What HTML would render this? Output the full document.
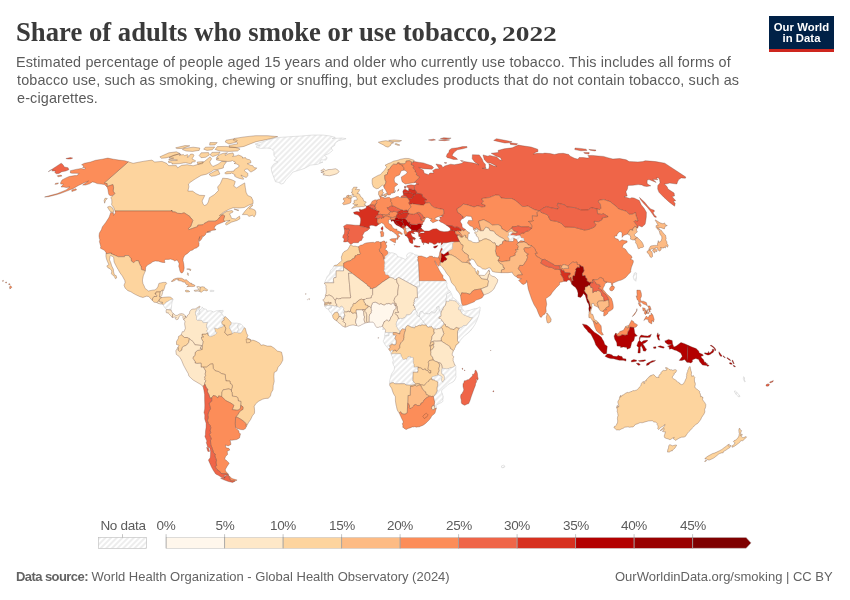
<!DOCTYPE html>
<html><head><meta charset="utf-8"><title>Share of adults who smoke or use tobacco, 2022</title>
<style>
html,body{margin:0;padding:0;background:#fff;}
body{width:850px;height:600px;position:relative;overflow:hidden;font-family:"Liberation Sans",sans-serif;}
#title{will-change:transform;position:absolute;left:16px;top:14.2px;font-family:"Liberation Serif",serif;font-weight:bold;font-size:28px;color:#3a3a3a;white-space:nowrap;transform-origin:0 0;line-height:36px;}
#t1{display:inline-block;transform-origin:0 0;transform:scaleX(0.953);}
#t2{position:absolute;left:485.7px;top:1.9px;font-size:20.5px;display:inline-block;transform-origin:0 0;transform:scaleX(1.336);}
.sub{will-change:transform;position:absolute;left:16.5px;font-size:14.4px;letter-spacing:0.14px;color:#5b5b5b;white-space:nowrap;transform-origin:0 0;line-height:18px;}
#logo{will-change:transform;position:absolute;left:769px;top:16px;width:65px;height:33px;background:#002147;border-bottom:3px solid #ce261e;color:#fff;font-weight:bold;font-size:11.3px;line-height:11px;text-align:center;letter-spacing:0.05px;}
#logo div{position:absolute;left:0;width:65px;}
.lg{will-change:transform;position:absolute;top:518.4px;width:40px;text-align:center;font-size:13.5px;color:#5b5b5b;line-height:16px;letter-spacing:-0.3px;}
.ft{will-change:transform;position:absolute;top:569px;font-size:13px;color:#636363;white-space:nowrap;line-height:16px;transform-origin:0 0;}
svg{position:absolute;left:0;top:0;}
</style></head><body>
<svg width="850" height="600" viewBox="0 0 850 600">
<defs><pattern id="hatch" patternUnits="userSpaceOnUse" width="4" height="4" patternTransform="rotate(-45 2 2)"><rect width="4" height="4" fill="#fff"/><path d="M-1,2 l6,0" stroke="#ccc" stroke-width="0.7"/></pattern></defs>
<g stroke-linejoin="round">
<path d="M255.1,144.1L265.4,140.9L271.7,138.7L279.8,137.4L291.5,136.6L301.5,136.0L311.6,135.1L322.5,135.0L330.2,136.0L335.3,137.4L332.1,138.5L342.1,138.0L346.1,138.7L338.6,140.7L335.2,143.0L334.6,145.4L331.0,147.8L332.7,150.4L328.9,153.5L324.5,155.4L327.2,157.7L325.9,160.1L321.0,159.8L319.6,162.5L323.0,162.0L317.4,164.4L310.5,165.1L304.4,168.5L298.7,170.3L292.9,172.1L290.0,175.6L286.1,179.6L283.4,183.4L281.0,184.1L278.8,182.4L275.4,181.7L274.0,177.9L272.7,174.4L271.5,171.0L271.3,167.6L273.6,164.2L278.0,162.0L273.8,160.3L276.6,158.1L273.9,155.6L273.9,151.4L271.1,148.6L266.9,148.0L260.5,148.4L256.6,147.6L256.6,145.8L260.0,145.2L255.1,144.1Z" fill="url(#hatch)" stroke="#c8c8c8" stroke-width="0.5"/>
<path d="M128.3,161.8L133.1,163.3L139.6,162.0L145.9,160.9L151.9,160.1L154.7,162.0L162.0,161.4L166.6,163.3L168.6,165.6L176.3,165.6L177.6,167.8L181.6,165.3L187.3,164.7L193.1,165.8L198.6,164.2L203.8,162.0L210.1,156.8L211.6,158.8L209.8,161.8L210.6,164.0L212.9,166.5L218.0,164.2L221.8,161.4L226.5,161.8L223.6,165.8L223.3,168.0L217.7,169.4L213.9,169.8L210.6,172.1L206.5,174.2L201.2,175.4L195.0,179.1L190.8,181.9L188.4,184.1L188.9,186.7L187.9,191.1L192.6,191.1L195.9,193.5L199.7,195.3L204.8,195.5L202.1,201.0L203.0,204.0L204.3,205.5L206.6,204.7L208.3,202.0L209.4,197.7L214.5,194.5L218.4,190.6L217.6,187.0L220.3,183.8L222.7,178.2L227.8,178.6L232.4,180.0L235.3,181.5L233.8,186.2L236.7,187.9L241.2,185.0L244.7,182.9L245.3,187.5L246.1,192.3L247.7,195.5L251.3,197.0L253.0,200.5L253.1,203.5L249.1,205.0L244.3,207.5L239.1,208.0L233.2,207.7L228.5,209.5L223.5,212.3L219.3,215.6L221.8,214.3L226.9,211.3L232.2,210.5L233.1,212.0L229.5,213.8L230.7,216.1L231.6,218.4L235.6,218.9L239.5,216.1L240.0,218.7L237.2,220.4L231.4,222.2L226.4,225.1L225.3,224.0L226.7,222.2L230.1,220.4L226.8,220.7L224.5,221.5L223.9,220.4L223.5,219.4L224.7,215.9L223.9,215.2L222.1,215.0L219.8,216.9L218.5,218.9L217.0,220.2L215.2,221.2L208.6,221.2L204.2,223.5L202.9,224.8L197.8,225.2L197.6,226.6L188.8,229.7L188.4,228.4L190.7,226.4L192.8,220.4L191.4,218.4L190.0,217.4L189.8,216.4L184.1,212.8L181.5,213.6L177.5,213.3L175.1,212.0L172.0,211.8L171.8,210.0L171.3,211.0L115.0,211.0L113.8,207.7L111.6,204.7L111.9,202.2L111.7,199.5L110.8,197.5L113.3,195.3L114.8,193.5L113.1,191.1L113.6,187.7L112.9,184.6L107.1,186.5L107.1,183.6L104.1,183.1L128.3,161.8ZM113.4,212.5L110.6,211.8L108.9,209.5L107.5,207.0L109.9,206.2L112.4,207.7L113.6,210.3L113.4,212.5ZM104.6,203.2L104.1,200.5L105.0,198.2L107.3,198.5L105.5,200.5L104.6,203.2ZM242.4,214.6L245.1,211.0L248.8,207.0L252.2,204.5L253.0,205.2L249.4,208.7L251.8,208.7L254.9,210.0L255.9,212.0L255.6,214.6L254.2,216.9L252.4,215.3L249.0,216.4L247.1,214.6L242.4,214.6ZM233.9,209.0L238.2,210.8L238.8,210.0L233.9,209.0ZM246.3,158.9L249.7,159.8L250.6,160.7L251.0,162.7L247.3,163.7L250.4,165.2L252.8,165.7L254.2,167.7L256.8,167.9L255.4,169.5L251.0,172.1L249.4,171.1L247.8,169.0L245.4,169.2L244.5,170.5L245.6,171.9L247.4,172.9L247.8,173.6L247.8,175.8L246.3,177.5L244.4,176.9L240.9,175.0L242.4,177.0L243.5,178.4L243.4,179.3L239.0,178.3L235.9,177.0L234.3,175.8L235.3,175.2L233.4,174.0L231.5,172.9L231.1,173.5L225.8,173.9L224.7,173.1L227.0,171.4L230.3,171.4L234.0,171.1L234.0,170.3L235.3,169.1L238.8,166.9L239.0,165.9L238.8,165.2L236.9,164.1L234.0,163.4L235.4,162.8L234.6,161.4L233.2,161.3L232.4,160.5L231.1,161.2L227.9,161.5L222.2,161.0L219.2,160.4L216.8,160.0L216.0,159.3L218.6,158.3L216.3,158.3L217.6,156.1L220.5,154.2L223.0,153.4L227.5,152.8L225.2,154.2L225.3,155.5L228.2,153.8L233.0,152.9L233.9,155.1L232.6,156.5L236.2,155.9L238.4,155.0L241.2,156.1L242.7,157.1L242.2,158.0L245.6,157.6L246.3,158.9ZM209.0,174.4L214.9,171.0L218.1,170.1L219.9,174.0L215.2,175.8L211.3,176.3L209.0,174.4ZM180.0,153.9L181.1,154.3L179.2,155.2L183.5,154.6L184.5,155.7L187.5,154.6L188.2,155.3L187.3,157.4L189.1,156.5L190.3,154.3L192.0,154.0L193.2,154.3L194.1,155.2L193.0,157.3L192.0,158.8L193.7,159.8L195.7,160.9L194.7,161.8L191.8,162.0L192.1,162.9L190.8,163.7L188.1,163.3L185.7,162.7L183.7,162.9L179.8,163.6L175.2,163.9L172.0,164.1L172.2,163.1L170.5,162.5L168.7,162.7L168.5,161.0L169.8,160.8L172.8,160.4L175.0,160.5L177.5,160.1L174.9,159.6L171.2,159.8L168.9,159.7L168.9,159.0L173.7,158.1L171.1,158.1L168.9,157.6L172.1,156.0L174.2,155.1L180.0,153.9ZM159.9,156.8L168.9,152.8L176.4,151.8L180.0,153.5L170.6,156.6L165.9,157.9L161.3,158.3L159.9,156.8ZM201.2,152.8L208.5,152.6L209.4,154.9L205.6,157.3L201.1,157.7L199.2,155.6L201.2,152.8ZM211.9,152.4L220.0,152.2L218.6,154.5L212.7,156.6L210.2,154.9L211.9,152.4ZM197.2,162.0L203.4,161.6L202.5,163.6L197.8,164.2L197.2,162.0ZM184.0,148.4L193.2,147.2L199.8,148.0L199.2,150.4L192.6,151.4L186.1,151.0L182.4,149.6L184.0,148.4ZM205.4,147.2L214.7,147.0L212.3,149.8L207.0,150.4L203.7,149.2L205.4,147.2ZM175.7,147.8L184.9,145.6L189.8,145.8L182.5,148.4L176.9,148.6L175.7,147.8ZM217.4,146.6L225.9,146.4L235.5,147.4L240.1,149.0L237.5,151.0L228.6,151.4L219.6,151.0L215.1,149.4L217.4,146.6ZM234.0,138.5L244.3,136.9L255.4,135.7L267.7,135.7L277.7,136.6L273.0,138.0L264.9,139.9L256.0,141.7L250.2,143.9L244.0,146.4L236.8,147.6L229.4,147.4L229.2,145.4L237.6,143.9L236.8,142.0L233.3,140.2L234.0,138.5ZM226.1,140.2L233.5,138.9L237.3,140.4L235.4,142.6L228.8,143.9L225.2,142.0L226.1,140.2ZM209.9,142.6L217.2,142.6L215.0,144.9L209.6,145.1L209.9,142.6Z" fill="#fdd49e" stroke="#5a3a30" stroke-opacity="0.75" stroke-width="0.4"/>
<path d="M115.0,211.0L171.3,211.0L171.8,210.0L172.0,211.8L175.1,212.0L177.5,213.3L181.5,213.6L184.1,212.8L189.8,216.4L190.0,217.4L191.4,218.4L192.8,220.4L190.7,226.4L188.4,228.4L188.8,229.7L197.6,226.6L197.8,225.2L202.9,224.8L204.2,223.5L208.6,221.2L215.2,221.2L217.0,220.2L218.5,218.9L219.8,216.9L222.1,215.0L223.9,215.2L224.7,215.9L223.5,219.4L223.9,220.4L224.5,221.5L221.5,222.8L219.1,223.8L216.7,224.8L215.1,226.4L214.2,227.9L214.7,229.2L215.8,228.9L215.5,230.0L212.9,230.2L211.0,230.8L207.1,231.8L210.7,231.8L206.1,232.8L205.3,234.9L203.0,236.7L202.1,235.7L202.4,237.5L201.4,239.3L199.5,241.4L199.2,239.6L199.9,236.5L198.9,239.3L198.5,241.9L199.1,243.0L198.9,246.1L196.5,247.9L194.6,248.4L192.7,250.0L190.3,250.8L187.5,253.4L184.8,255.2L183.3,258.1L183.0,260.4L183.8,264.1L184.2,268.0L183.6,271.1L182.5,272.7L181.1,273.0L179.9,270.9L179.4,268.3L178.7,266.2L179.2,263.8L178.4,262.0L177.1,259.9L174.7,261.0L173.3,259.9L170.6,259.1L168.4,259.4L165.5,259.4L164.4,260.4L165.0,262.5L162.8,262.5L160.7,262.0L158.6,261.2L155.2,261.0L152.8,261.7L150.8,263.3L147.5,265.1L145.7,267.2L145.4,270.8L141.4,269.6L141.1,266.7L139.8,264.6L138.4,260.7L135.9,260.7L133.8,262.8L131.4,261.2L131.0,258.6L128.6,255.5L124.9,255.5L124.5,256.8L118.3,256.8L111.0,253.7L111.4,253.1L106.0,253.7L106.0,252.4L104.4,250.3L102.9,249.5L100.4,248.2L100.8,246.6L99.8,243.0L99.4,241.4L99.9,239.8L99.4,238.5L99.0,235.9L99.4,233.1L101.5,229.5L102.3,226.9L105.7,222.5L108.6,218.1L109.2,216.9L110.7,212.5L113.4,213.0L113.6,215.3L115.4,212.8L115.0,211.0ZM128.3,161.8L124.7,160.7L118.9,160.1L113.6,159.2L107.8,158.1L102.1,159.2L95.5,160.3L90.5,162.0L84.4,163.3L81.6,164.7L84.0,166.0L82.6,167.4L85.3,167.8L84.8,169.2L81.1,168.5L75.9,169.4L70.4,170.7L70.4,173.0L72.4,173.3L76.8,173.3L79.2,173.5L76.9,175.6L74.7,175.6L69.1,176.5L65.9,177.9L62.0,180.0L60.6,182.7L60.7,184.1L63.5,184.1L61.0,187.0L63.8,187.0L66.4,187.5L69.8,187.0L66.2,189.9L57.5,193.5L50.9,195.3L44.6,197.0L48.4,196.7L56.2,194.8L60.4,193.5L66.8,191.1L73.4,188.4L78.4,185.5L84.4,182.7L88.5,181.0L82.7,185.0L85.5,185.0L89.5,183.8L92.5,181.9L94.7,182.4L97.1,183.6L101.2,184.1L104.4,184.6L106.1,186.0L107.3,187.5L107.9,189.4L108.3,192.1L108.8,194.5L110.2,195.7L112.7,195.5L114.8,193.5L113.1,191.1L113.6,187.7L112.9,184.6L107.1,186.5L107.1,183.6L104.1,183.1L128.3,161.8ZM71.8,189.9L76.0,188.7L76.5,189.9L71.9,191.6L71.8,189.9ZM57.2,175.8L61.1,175.1L62.0,176.1L58.1,176.8L57.2,175.8ZM55.5,183.4L58.5,182.9L57.6,184.1L54.9,184.3L55.5,183.4ZM9.5,286.8L10.7,285.8L11.9,287.3L9.9,289.0L9.5,286.8ZM8.6,283.9L9.8,283.7L10.1,284.5L8.9,284.7L8.6,283.9ZM5.4,282.4L6.4,281.9L6.6,282.9L5.7,282.9L5.4,282.4ZM2.4,280.8L3.4,280.4L3.4,281.2L2.5,281.3L2.4,280.8Z" fill="#fc8d59" stroke="#5a3a30" stroke-opacity="0.75" stroke-width="0.4"/>
<path d="M106.0,253.7L111.4,253.1L111.0,253.7L118.3,256.8L124.5,256.8L124.9,255.5L128.6,255.5L131.0,258.6L131.4,261.2L133.8,262.8L135.9,260.7L138.4,260.7L139.8,264.6L141.1,266.7L141.4,269.6L145.4,270.8L143.3,275.8L142.5,279.8L142.5,281.1L143.0,283.7L144.4,286.5L145.0,288.4L146.9,289.7L148.3,291.0L152.3,290.2L154.6,289.9L156.5,288.9L158.0,286.5L158.9,283.4L163.1,282.4L166.0,282.4L166.8,283.2L165.1,285.5L164.6,287.6L163.5,290.7L162.5,290.2L160.4,291.6L160.3,292.0L156.1,292.0L155.9,293.5L155.0,293.6L157.0,295.7L156.7,296.5L154.0,296.5L152.6,298.6L152.4,300.6L148.7,296.5L146.5,296.2L142.9,297.5L139.6,296.5L135.5,294.6L133.2,293.3L130.9,291.8L127.9,290.7L125.1,288.1L124.0,285.2L125.1,282.6L124.8,280.5L123.4,277.9L122.4,276.1L119.9,272.7L118.3,269.8L116.9,267.5L115.8,265.4L114.1,262.0L113.6,257.1L110.6,255.5L110.1,256.3L109.5,259.7L110.8,262.8L111.7,265.9L113.3,269.1L113.6,271.9L114.5,275.1L116.2,275.6L116.7,277.9L115.4,278.7L114.8,277.2L113.4,275.8L111.4,273.8L111.8,270.9L110.1,268.8L107.9,267.8L106.8,265.9L108.9,264.6L107.5,261.7L106.5,259.1L105.9,256.3L106.0,253.7Z" fill="#fdd49e" stroke="#5a3a30" stroke-opacity="0.75" stroke-width="0.4"/>
<path d="M152.4,300.6L154.0,302.2L157.0,302.6L158.9,300.9L159.4,300.1L159.4,299.1L161.8,297.5L160.3,297.0L159.6,297.0L160.3,292.0L156.1,292.0L155.9,293.5L155.0,293.6L157.0,295.7L156.7,296.5L154.0,296.5L152.6,298.6L152.4,300.6Z" fill="#fdd49e" stroke="#5a3a30" stroke-opacity="0.75" stroke-width="0.4"/>
<path d="M159.6,297.0L160.3,297.0L161.8,295.4L162.6,292.8L162.5,290.2L160.4,291.6L160.3,292.0L159.6,297.0Z" fill="#fee8c8" stroke="#5a3a30" stroke-opacity="0.75" stroke-width="0.4"/>
<path d="M157.0,302.6L158.9,300.9L160.7,302.0L162.5,302.2L162.1,304.0L160.5,304.0L157.6,303.3L157.0,302.6Z" fill="#fee8c8" stroke="#5a3a30" stroke-opacity="0.75" stroke-width="0.4"/>
<path d="M158.9,300.9L159.4,300.1L159.4,299.1L161.8,297.5L163.5,297.3L166.9,297.0L169.2,296.9L170.8,297.3L173.1,299.3L170.0,300.1L168.3,301.2L166.4,302.2L164.7,303.8L163.9,304.6L163.0,304.7L162.1,304.0L162.5,302.2L160.7,302.0L158.9,300.9Z" fill="#fdd49e" stroke="#5a3a30" stroke-opacity="0.75" stroke-width="0.4"/>
<path d="M163.0,304.7L163.9,304.6L164.7,303.8L166.4,302.2L168.3,301.2L170.0,300.1L173.1,299.3L172.1,302.0L171.7,304.6L171.5,307.2L171.1,309.8L171.1,310.0L168.8,309.8L166.5,309.5L164.8,307.7L163.0,304.7Z" fill="url(#hatch)" stroke="#c8c8c8" stroke-width="0.5"/>
<path d="M166.5,309.5L168.8,309.8L171.1,310.0L172.0,312.4L173.4,313.6L172.6,314.7L172.4,317.5L171.1,316.3L170.7,315.8L168.7,313.7L167.9,312.4L167.4,313.2L166.1,312.4L166.2,310.0L166.5,309.5Z" fill="#fee8c8" stroke="#5a3a30" stroke-opacity="0.75" stroke-width="0.4"/>
<path d="M173.4,313.6L175.8,315.5L177.4,315.3L179.5,314.0L181.6,313.6L183.9,314.2L185.3,315.9L185.3,317.9L183.8,319.7L182.8,317.6L183.3,316.6L181.5,315.3L180.4,315.1L179.1,316.8L178.1,319.2L176.7,319.7L175.1,318.7L176.3,317.4L174.5,317.1L172.4,317.5L172.6,314.7L173.4,313.6Z" fill="#fee8c8" stroke="#5a3a30" stroke-opacity="0.75" stroke-width="0.4"/>
<path d="M177.7,278.0L179.7,278.1L181.4,278.2L183.4,279.1L184.2,280.0L186.3,279.7L187.1,280.3L188.8,282.0L190.1,283.1L190.8,283.1L192.1,283.6L191.8,284.4L193.5,284.5L195.1,285.6L194.7,286.2L193.2,286.5L191.7,286.6L190.1,286.4L186.8,286.7L188.5,285.2L187.7,284.5L186.2,284.4L185.6,283.6L185.2,282.1L183.9,282.2L181.9,281.5L181.3,281.0L178.4,280.6L177.7,280.0L178.6,279.4L176.4,279.3L174.6,280.6L173.7,280.7L173.3,281.3L172.1,281.6L171.2,281.3L172.5,280.5L173.1,279.6L174.2,279.0L175.4,278.5L177.2,278.2L177.7,278.0Z" fill="#fdbb84" stroke="#5a3a30" stroke-opacity="0.75" stroke-width="0.4"/>
<path d="M185.0,290.9L186.1,290.2L188.3,290.5L189.8,291.5L188.2,291.9L186.4,291.9L185.0,290.9Z" fill="#fdd49e" stroke="#5a3a30" stroke-opacity="0.75" stroke-width="0.4"/>
<path d="M200.4,287.1L198.1,286.4L196.7,286.8L197.9,288.1L198.6,289.9L195.9,290.1L193.9,290.5L195.1,291.4L197.4,291.1L199.9,291.4L200.4,287.1Z" fill="#fee8c8" stroke="#5a3a30" stroke-opacity="0.75" stroke-width="0.4"/>
<path d="M200.4,287.1L199.9,291.4L201.3,292.4L202.8,290.9L204.2,290.3L206.9,291.0L207.8,289.9L206.4,288.9L205.1,288.6L204.6,287.2L202.6,286.7L200.4,287.1Z" fill="#fdd49e" stroke="#5a3a30" stroke-opacity="0.75" stroke-width="0.4"/>
<path d="M210.2,290.6L210.5,290.2L214.0,290.5L213.7,291.5L210.3,291.6L210.2,290.6Z" fill="url(#hatch)" stroke="#c8c8c8" stroke-width="0.5"/>
<path d="M187.6,272.7L188.4,273.5L188.3,275.6L187.4,274.5L187.6,272.7ZM188.9,268.8L190.5,269.1L190.8,269.8L190.2,270.9L189.7,269.6L186.7,269.1L188.9,268.8Z" fill="#fdd49e" stroke="#5a3a30" stroke-opacity="0.75" stroke-width="0.4"/>
<path d="M221.0,310.6L223.1,310.3L223.0,312.1L220.9,312.3L221.0,310.6Z" fill="url(#hatch)" stroke="#c8c8c8" stroke-width="0.5"/>
<path d="M244.0,327.7L245.3,328.3L246.6,333.3L247.9,335.6L246.8,338.0L249.5,339.0L251.4,340.8L252.8,340.1L255.8,341.1L259.7,343.2L260.9,345.3L263.2,344.8L267.3,346.1L271.0,346.1L274.3,348.2L277.3,351.0L281.5,352.1L282.7,357.0L282.8,360.2L280.8,364.1L278.1,367.2L276.7,371.1L274.2,372.4L273.9,376.4L274.2,381.6L273.2,385.5L273.0,389.7L271.2,392.8L270.5,395.9L268.4,398.3L265.0,398.5L262.4,399.3L258.7,401.2L255.7,403.8L254.2,406.4L254.6,410.3L254.5,413.2L252.4,415.8L250.7,419.4L248.5,422.6L246.3,426.6L245.9,425.2L246.3,423.9L242.9,420.7L240.3,419.0L237.3,417.3L235.6,417.3L238.0,414.2L239.1,412.4L240.8,410.4L242.9,409.4L243.0,406.9L240.7,405.3L240.9,401.4L238.4,401.0L237.7,397.5L236.2,396.6L232.4,396.2L232.0,392.5L231.3,391.1L232.0,390.6L231.2,390.2L232.5,386.0L231.7,384.3L230.1,383.4L230.0,381.1L225.9,380.9L225.5,377.9L225.2,374.5L221.7,373.7L218.3,371.5L215.5,371.0L213.3,368.5L212.8,363.8L210.1,364.3L206.4,367.2L203.5,367.1L201.1,367.2L201.1,363.2L197.0,363.4L194.9,363.0L195.4,362.0L192.8,358.2L193.5,356.5L194.8,355.7L195.2,352.3L197.4,350.5L199.7,349.9L201.9,349.5L203.0,341.4L201.5,338.9L201.5,336.9L203.5,336.8L201.9,335.6L202.0,334.1L205.8,333.9L207.6,333.0L208.3,335.4L208.9,335.4L210.1,336.5L212.0,336.0L215.0,334.6L216.8,332.8L215.5,332.0L214.2,327.8L217.8,328.8L218.5,328.1L222.5,326.8L223.5,324.9L224.5,324.9L225.0,326.8L225.9,328.2L224.9,332.5L227.0,335.1L229.3,334.6L232.7,333.4L234.0,332.0L237.1,332.4L238.5,332.8L241.0,332.8L244.0,327.7ZM246.1,339.0L248.9,339.2L251.2,339.8L250.0,342.4L246.6,342.9L246.1,339.0Z" fill="#fdd49e" stroke="#5a3a30" stroke-opacity="0.75" stroke-width="0.4"/>
<path d="M185.3,315.9L186.4,317.6L187.7,315.0L189.4,313.7L189.8,311.4L191.2,309.7L192.9,309.0L195.2,309.0L197.6,307.4L199.7,306.1L200.1,306.9L199.5,307.7L198.1,308.2L196.8,309.5L195.4,312.9L196.6,316.6L196.5,319.2L197.4,320.2L201.7,320.2L203.3,322.6L207.7,322.3L206.9,324.7L206.7,326.8L207.9,329.6L206.6,331.2L208.1,332.5L208.9,335.4L208.3,335.4L207.6,333.0L205.8,333.9L202.0,334.1L201.9,335.6L203.5,336.8L201.5,336.9L201.5,338.9L203.0,341.4L201.9,349.5L201.0,348.4L200.1,348.4L201.5,345.5L194.9,344.8L193.2,341.8L189.4,338.8L187.1,337.5L184.5,337.5L181.2,334.8L182.3,331.7L183.9,331.7L185.4,328.3L184.6,323.9L185.0,321.3L183.8,319.7L185.3,317.9L185.3,315.9Z" fill="#fee8c8" stroke="#5a3a30" stroke-opacity="0.75" stroke-width="0.4"/>
<path d="M199.5,307.7L198.1,308.2L196.8,309.5L195.4,312.9L196.6,316.6L196.5,319.2L197.4,320.2L201.7,320.2L203.3,322.6L207.7,322.3L206.9,324.7L206.7,326.8L207.9,329.6L206.6,331.2L208.1,332.5L208.9,335.4L210.1,336.5L212.0,336.0L215.0,334.6L216.8,332.8L215.5,332.0L214.2,327.8L217.8,328.8L218.5,328.1L222.5,326.8L223.5,324.9L223.1,324.9L221.7,323.0L222.3,321.0L224.3,320.0L223.7,318.1L225.6,316.8L223.1,316.0L221.6,312.9L219.3,312.0L218.9,311.1L220.8,310.6L216.2,310.8L213.8,312.1L211.1,310.8L207.0,311.1L206.4,309.3L203.0,308.5L202.2,306.9L201.8,308.7L199.7,310.0L198.6,312.4L197.4,314.0L199.7,314.2L199.9,310.3L198.8,309.8L199.5,307.7Z" fill="url(#hatch)" stroke="#c8c8c8" stroke-width="0.5"/>
<path d="M225.6,316.8L223.7,318.1L224.3,320.0L222.3,321.0L221.7,323.0L223.1,324.9L224.5,324.9L225.0,326.8L225.9,328.2L224.9,332.5L227.0,335.1L229.3,334.6L232.7,333.4L230.9,329.9L229.4,328.1L229.7,325.7L231.1,324.9L231.5,323.0L229.6,320.7L228.2,319.2L225.6,316.8Z" fill="#fdd49e" stroke="#5a3a30" stroke-opacity="0.75" stroke-width="0.4"/>
<path d="M231.5,323.0L231.1,324.9L229.7,325.7L229.4,328.1L230.9,329.9L232.7,333.4L234.0,332.0L237.1,332.4L238.6,329.6L237.6,326.0L238.7,323.5L235.9,323.0L234.1,323.2L231.5,323.0Z" fill="url(#hatch)" stroke="#c8c8c8" stroke-width="0.5"/>
<path d="M238.7,323.5L237.6,326.0L238.6,329.6L237.1,332.4L238.5,332.8L241.0,332.8L244.0,327.7L242.6,325.7L241.0,324.1L238.7,323.5Z" fill="url(#hatch)" stroke="#c8c8c8" stroke-width="0.5"/>
<path d="M181.2,334.8L184.5,337.5L187.1,337.5L189.4,338.8L188.7,342.5L186.4,345.3L183.7,346.3L182.3,347.4L181.8,350.2L179.7,351.6L177.8,350.1L178.3,348.7L177.9,347.4L179.1,345.3L176.5,344.5L176.5,341.4L178.3,338.5L178.5,336.4L181.2,334.8Z" fill="#fdd49e" stroke="#5a3a30" stroke-opacity="0.75" stroke-width="0.4"/>
<path d="M177.9,347.4L178.3,348.7L177.8,350.1L179.7,351.6L181.8,350.2L182.3,347.4L183.7,346.3L186.4,345.3L188.7,342.5L189.4,338.8L193.2,341.8L194.9,344.8L201.5,345.5L200.1,348.4L201.0,348.4L201.9,349.5L199.7,349.9L197.4,350.5L195.2,352.3L194.8,355.7L193.5,356.5L192.8,358.2L195.4,362.0L194.9,363.0L197.0,363.4L201.1,363.2L201.1,367.2L203.5,367.1L205.8,371.1L205.2,374.0L205.7,375.8L204.6,377.1L205.2,378.4L204.7,379.2L205.9,380.8L204.6,383.4L204.9,384.2L203.1,386.4L200.6,384.4L198.0,382.9L193.1,380.0L188.9,376.1L188.2,373.5L186.2,370.1L183.5,365.1L181.4,359.9L179.2,356.5L176.3,354.4L175.8,350.8L177.9,347.4Z" fill="#fee8c8" stroke="#5a3a30" stroke-opacity="0.75" stroke-width="0.4"/>
<path d="M203.5,367.1L206.4,367.2L210.1,364.3L212.8,363.8L213.3,368.5L215.5,371.0L218.3,371.5L221.7,373.7L225.2,374.5L225.5,377.9L225.9,380.9L230.0,381.1L230.1,383.4L231.7,384.3L232.5,386.0L231.2,390.2L229.0,388.9L223.1,389.8L222.0,392.1L221.7,396.6L218.6,395.9L217.9,398.0L215.9,396.2L213.3,395.5L211.7,397.9L210.0,398.2L208.9,394.6L207.4,391.8L207.8,389.1L206.4,388.1L204.9,384.2L204.6,383.4L205.9,380.8L204.7,379.2L205.2,378.4L204.6,377.1L205.7,375.8L205.2,374.0L205.8,371.1L203.5,367.1Z" fill="#fdd49e" stroke="#5a3a30" stroke-opacity="0.75" stroke-width="0.4"/>
<path d="M221.7,396.6L222.0,392.1L223.1,389.8L229.0,388.9L231.2,390.2L232.0,390.6L231.3,391.1L232.0,392.5L232.4,396.2L236.2,396.6L237.7,397.5L238.4,401.0L240.9,401.4L240.7,405.3L240.5,408.1L238.8,410.0L237.0,410.3L232.2,409.6L233.9,405.3L231.0,403.2L225.8,400.6L221.7,396.6Z" fill="#fdd49e" stroke="#5a3a30" stroke-opacity="0.75" stroke-width="0.4"/>
<path d="M235.6,417.3L237.3,417.3L240.3,419.0L242.9,420.7L246.3,423.9L245.9,425.2L246.3,426.6L245.4,428.6L243.4,429.7L240.6,429.6L237.1,428.6L235.5,427.0L235.2,423.3L235.6,417.3Z" fill="#fc8d59" stroke="#5a3a30" stroke-opacity="0.75" stroke-width="0.4"/>
<path d="M215.9,396.2L217.9,398.0L218.6,395.9L221.7,396.6L225.8,400.6L231.0,403.2L233.9,405.3L232.2,409.6L237.0,410.3L238.8,410.0L240.5,408.1L240.7,405.3L243.0,406.9L242.9,409.4L240.8,410.4L239.1,412.4L238.0,414.2L235.6,417.3L235.2,423.3L235.5,427.0L235.7,428.0L238.9,430.9L239.1,433.0L240.5,433.8L239.5,437.9L236.8,439.5L231.7,440.3L230.1,440.0L231.0,444.4L228.2,445.9L225.4,445.0L226.0,447.8L228.9,448.3L229.8,450.1L227.2,451.2L227.6,454.5L225.7,456.3L224.6,459.1L227.0,460.9L229.2,463.2L227.0,466.5L225.4,469.3L225.5,471.0L228.5,474.4L226.1,473.9L221.2,473.5L219.3,471.0L217.0,469.8L215.1,466.5L216.7,465.5L215.9,462.2L216.5,460.4L214.8,455.8L215.3,454.2L213.5,452.7L212.2,448.3L210.8,445.0L210.4,440.0L211.4,439.0L209.4,434.6L210.7,432.7L210.1,430.4L210.8,427.8L210.0,425.4L208.2,423.3L207.4,420.5L208.3,417.1L207.7,415.0L209.0,411.1L210.5,408.7L209.0,403.2L211.7,401.2L211.7,397.9L213.3,395.5L215.9,396.2ZM228.3,475.2L229.6,476.3L231.9,478.5L237.1,480.1L235.0,481.1L230.7,480.8L228.3,475.2Z" fill="#fc8d59" stroke="#5a3a30" stroke-opacity="0.75" stroke-width="0.4"/>
<path d="M203.1,386.4L204.9,384.2L206.4,388.1L207.8,389.1L207.4,391.8L208.9,394.6L210.0,398.2L211.7,397.9L211.7,401.2L209.0,403.2L210.5,408.7L209.0,411.1L207.7,415.0L208.3,417.1L207.4,420.5L208.2,423.3L210.0,425.4L210.8,427.8L210.1,430.4L210.7,432.7L209.4,434.6L211.4,439.0L210.4,440.0L210.8,445.0L212.2,448.3L213.5,452.7L215.3,454.2L214.8,455.8L216.5,460.4L215.9,462.2L216.7,465.5L215.1,466.5L217.0,469.8L219.3,471.0L221.2,473.5L226.1,473.9L228.5,474.4L226.9,475.0L224.2,475.5L224.9,478.0L221.8,477.5L218.7,475.5L215.7,474.0L213.4,470.5L211.6,467.3L209.9,463.4L208.4,460.1L210.2,457.8L210.5,454.8L210.6,451.4L209.9,448.1L207.7,447.0L206.3,442.6L206.9,441.1L204.9,436.4L205.4,434.8L205.5,431.2L206.1,427.3L206.1,423.3L204.7,418.9L204.8,415.0L204.0,412.6L204.7,409.0L204.8,405.1L204.6,399.8L204.6,394.4L203.9,390.2L203.1,386.4ZM206.6,447.5L208.3,447.8L209.6,451.4L207.9,451.4L206.6,447.5ZM228.3,475.2L230.7,480.8L235.0,481.1L232.7,482.5L228.4,481.5L223.8,479.8L220.6,478.3L224.1,478.3L225.4,476.0L227.2,475.3L228.3,475.2Z" fill="#ef6548" stroke="#5a3a30" stroke-opacity="0.75" stroke-width="0.4"/>
<path d="M414.2,161.4L418.1,162.2L423.3,162.9L431.8,165.8L433.6,167.6L432.1,169.2L423.3,168.7L418.7,167.4L423.4,170.3L424.3,173.3L428.6,174.7L429.9,173.0L433.9,173.0L432.6,170.7L435.5,168.9L439.2,168.7L435.9,164.0L441.3,164.9L442.9,167.6L444.7,166.0L450.7,164.2L454.3,164.7L459.7,163.8L462.0,163.3L463.7,161.4L470.8,162.5L474.9,163.3L478.9,164.9L474.7,162.0L472.2,158.8L472.4,154.7L479.3,154.9L482.0,158.8L483.3,162.0L485.4,164.2L485.4,166.5L486.0,168.3L482.2,168.3L488.3,169.2L489.0,168.0L489.3,165.8L488.7,163.6L494.0,166.0L496.9,166.5L494.0,164.7L490.4,163.1L487.3,162.7L484.4,159.8L483.4,156.6L483.0,154.9L487.9,156.2L489.7,155.4L492.9,156.2L496.7,157.0L499.7,159.8L501.9,160.5L500.5,157.7L495.8,156.0L491.2,153.3L498.4,152.4L498.1,150.4L504.2,148.8L512.2,147.8L518.4,145.1L522.7,145.8L531.0,147.0L537.7,149.2L538.1,151.4L535.4,152.4L533.3,154.1L537.1,153.3L542.9,153.5L544.8,153.1L550.0,153.5L554.5,154.5L558.7,153.5L563.2,153.3L568.8,154.5L569.9,156.0L574.5,158.3L578.0,159.2L579.1,157.5L583.1,157.5L587.2,158.1L589.6,157.5L587.8,155.6L592.4,155.4L598.1,156.0L603.5,156.4L607.8,157.7L612.9,159.0L619.7,158.5L626.2,159.8L629.1,161.6L633.4,161.7L637.9,161.9L642.9,161.6L645.2,160.7L650.0,161.1L655.7,161.6L664.8,163.2L685.8,177.0L685.4,178.2L681.1,177.9L678.8,179.6L677.7,181.5L676.8,184.0L669.7,183.1L666.9,183.8L664.4,184.1L667.1,186.7L668.0,189.1L674.1,193.0L674.5,196.0L672.0,196.5L675.7,200.7L673.4,201.2L675.2,203.5L674.6,206.2L669.3,202.2L663.8,197.2L659.0,192.3L657.7,189.1L657.8,185.5L660.0,182.9L659.6,179.8L658.4,177.7L656.3,177.9L657.8,179.8L652.8,179.3L656.2,182.4L649.0,179.6L647.2,180.0L647.1,182.7L647.4,184.1L650.8,185.8L646.8,186.5L643.8,186.0L641.9,184.9L638.2,184.6L632.8,185.3L628.0,185.4L627.4,189.1L625.9,191.8L627.2,196.0L624.0,196.7L630.0,198.5L631.6,197.7L634.0,198.0L639.3,200.5L641.2,204.7L644.2,208.5L646.4,212.3L646.3,216.9L645.7,221.2L645.1,224.3L642.0,227.0L638.6,225.6L638.0,227.4L637.4,228.2L637.0,227.8L636.7,225.3L633.9,221.5L634.9,220.4L637.9,221.0L637.2,218.7L635.8,215.1L635.6,212.5L632.3,214.3L629.2,214.3L626.3,211.3L618.7,209.0L617.6,207.7L610.2,201.7L603.8,199.6L599.3,200.2L598.4,201.7L600.4,204.2L601.0,208.2L599.7,209.7L596.8,208.9L591.3,207.7L588.1,210.0L581.1,210.1L574.6,207.6L566.9,207.0L565.1,205.0L557.9,203.2L557.4,205.7L558.8,207.2L558.0,209.0L551.9,208.0L546.1,206.6L542.4,208.7L540.1,210.5L538.8,210.8L534.0,209.5L527.9,206.0L525.2,206.5L522.4,206.5L515.1,200.2L511.5,198.5L505.5,198.5L501.0,198.0L499.4,195.3L495.5,195.1L489.2,197.6L482.0,198.5L482.1,200.2L483.7,201.2L481.3,203.5L485.3,205.2L485.2,206.5L481.8,207.1L477.8,205.7L474.0,207.0L466.9,204.7L463.4,204.2L460.1,207.0L457.1,208.7L457.4,211.3L458.3,212.8L460.5,214.1L463.2,216.9L462.3,217.1L463.9,217.9L461.7,219.2L461.0,219.7L460.3,221.7L461.9,224.3L462.1,226.4L462.9,227.9L465.3,229.3L464.0,231.0L460.7,229.3L458.8,227.7L457.0,227.0L454.8,227.4L451.8,225.8L446.5,225.3L442.9,222.9L440.6,222.0L438.9,220.4L440.5,219.2L439.7,216.9L441.1,216.9L443.2,215.8L441.0,215.8L443.8,213.9L443.5,209.5L439.1,208.7L434.1,207.6L431.2,205.3L429.5,202.6L425.7,203.2L424.4,200.5L426.8,199.8L424.7,198.2L422.4,196.5L422.2,194.5L419.2,193.7L416.7,193.2L415.5,190.4L414.5,189.8L414.4,187.9L414.2,186.7L414.9,185.2L416.4,184.0L418.7,184.1L416.3,183.4L415.6,182.4L413.9,182.5L415.8,181.0L419.2,177.7L419.3,176.8L416.2,174.9L416.7,173.3L414.9,171.7L415.3,170.5L412.8,167.8L414.0,166.0L411.2,164.9L411.4,163.0L414.2,161.4ZM400.9,197.4L401.3,196.1L403.5,195.3L403.9,195.4L406.5,195.9L407.1,197.6L400.9,197.4ZM447.3,157.7L446.3,156.4L447.2,153.9L448.8,152.4L449.4,150.0L451.7,148.4L457.4,147.8L462.6,146.6L466.9,146.5L467.1,147.6L462.7,148.8L457.3,149.8L454.7,151.8L452.8,153.9L452.2,155.8L456.4,158.1L457.6,159.4L453.4,159.4L450.0,158.3L447.3,157.7ZM493.7,140.4L496.5,138.7L502.0,139.7L512.1,141.8L509.0,142.8L504.9,143.0L498.9,141.7L493.7,140.4ZM509.8,142.8L517.6,143.7L516.4,145.1L510.5,144.5L509.8,142.8ZM428.4,139.9L433.6,139.2L435.5,139.9L431.7,140.6L428.4,139.9ZM438.6,140.2L445.0,139.4L449.7,139.9L444.7,140.7L438.6,140.2ZM440.3,138.7L443.7,137.7L451.1,138.2L446.2,139.0L440.3,138.7ZM574.8,149.6L575.0,148.0L580.2,148.4L586.1,149.2L586.9,150.6L580.9,150.8L574.8,149.6ZM588.8,149.4L596.0,150.0L595.3,151.0L590.1,150.2L588.8,149.4ZM583.7,152.6L589.2,152.6L589.0,154.1L584.9,153.5L583.7,152.6ZM639.5,197.5L644.7,202.2L647.7,206.0L650.6,209.0L654.2,210.3L654.4,211.3L653.1,212.8L654.6,215.3L656.3,216.6L656.2,217.4L654.4,216.9L652.6,214.3L650.3,211.0L647.2,207.2L643.7,203.5L640.8,200.0L639.5,197.5ZM444.1,162.7L446.5,162.5L446.2,163.6L444.1,162.7ZM460.5,160.5L463.3,160.9L461.9,161.6L460.5,160.5ZM61.2,163.2L63.0,164.7L64.3,166.9L68.1,167.8L68.8,169.7L65.7,171.0L61.8,171.7L58.9,173.5L56.3,173.7L54.7,172.3L55.8,171.0L51.8,171.0L53.1,169.4L50.7,170.1L48.3,171.7ZM65.9,158.5L70.4,157.6L72.7,158.1L71.0,158.9L68.0,159.0L65.9,158.5Z" fill="#ef6548" stroke="#5a3a30" stroke-opacity="0.75" stroke-width="0.4"/>
<path d="M320.7,170.7L324.0,168.8L325.7,170.7L328.0,169.6L331.9,169.4L335.4,168.7L337.7,169.8L339.2,171.7L336.9,173.7L333.2,174.9L329.5,175.8L326.9,175.5L322.9,174.8L324.4,173.5L320.9,172.3L324.2,171.4L320.7,170.7Z" fill="#fee8c8" stroke="#5a3a30" stroke-opacity="0.75" stroke-width="0.4"/>
<path d="M383.6,186.0L382.6,185.0L380.7,186.5L378.4,188.4L376.3,188.7L373.4,187.0L372.2,183.8L372.1,180.3L372.4,178.6L375.5,176.8L378.1,175.4L380.7,174.4L382.3,172.3L384.2,170.7L385.4,168.7L386.9,166.9L385.0,165.3L388.2,163.6L390.6,162.7L393.7,161.1L396.9,160.5L400.7,159.2L405.0,158.4L408.8,158.5L414.2,160.3L412.9,161.6L414.2,161.4L411.6,163.0L411.6,161.8L409.2,160.7L406.1,161.1L405.9,162.5L404.6,163.9L400.7,163.8L398.4,162.5L397.5,163.0L396.8,164.4L393.5,164.2L391.1,166.5L389.6,169.2L388.1,169.6L388.3,171.4L387.1,173.0L387.9,174.0L384.7,175.4L384.8,178.4L385.4,180.8L386.1,181.2L385.6,183.4L384.8,184.6L384.4,186.2L383.6,186.0ZM378.3,142.2L383.1,141.1L385.9,140.7L388.9,141.3L393.7,142.8L391.0,143.9L390.6,145.4L388.0,147.2L385.6,146.4L383.0,144.7L379.9,143.3L378.3,142.2ZM388.7,140.4L394.3,139.9L401.6,140.6L399.2,141.8L392.6,141.7L388.7,140.4ZM394.8,144.1L398.1,145.4L399.9,145.1L396.1,143.5L394.8,144.1Z" fill="#fdd49e" stroke="#5a3a30" stroke-opacity="0.75" stroke-width="0.4"/>
<path d="M383.6,186.0L384.1,187.9L385.4,189.6L387.0,192.8L387.8,195.0L390.4,194.8L391.0,193.3L393.5,193.0L394.2,191.1L394.4,188.9L394.3,187.2L396.4,185.5L397.9,184.3L394.6,182.2L394.2,179.8L394.5,177.9L396.0,176.3L399.4,174.9L400.4,172.8L401.3,170.7L403.8,170.3L404.9,170.3L404.0,169.4L404.2,168.0L403.1,166.7L402.9,165.6L400.1,164.2L397.5,163.0L396.8,164.4L393.5,164.2L391.1,166.5L389.6,169.2L388.1,169.6L388.3,171.4L387.1,173.0L387.9,174.0L384.7,175.4L384.8,178.4L385.4,180.8L386.1,181.2L385.6,183.4L384.8,184.6L384.4,186.2L383.6,186.0ZM397.5,191.1L398.7,188.9L398.5,190.4L397.9,191.3L397.5,191.1ZM394.3,193.0L395.3,190.4L395.1,191.8L394.3,193.0Z" fill="#fc8d59" stroke="#5a3a30" stroke-opacity="0.75" stroke-width="0.4"/>
<path d="M404.9,170.3L407.3,172.1L406.4,173.7L403.9,175.4L401.3,177.0L401.5,179.3L402.1,181.7L404.4,183.4L405.4,184.1L409.0,183.4L413.8,182.7L415.8,181.0L419.2,177.7L419.3,176.8L416.2,174.9L416.7,173.3L414.9,171.7L415.3,170.5L412.8,167.8L414.0,166.0L411.2,164.9L411.4,163.0L411.6,161.8L409.2,160.7L406.1,161.1L405.9,162.5L404.6,163.9L400.7,163.8L398.4,162.5L397.5,163.0L400.1,164.2L402.9,165.6L403.1,166.7L404.2,168.0L404.0,169.4L404.9,170.3Z" fill="#fc8d59" stroke="#5a3a30" stroke-opacity="0.75" stroke-width="0.4"/>
<path d="M378.5,194.6L378.6,191.8L379.3,190.9L382.8,189.4L382.5,191.8L383.7,192.6L382.5,194.0L381.5,195.5L381.1,196.5L379.6,196.2L378.5,194.6ZM384.1,194.3L386.8,193.3L387.1,194.5L386.5,195.7L384.3,195.5L384.1,194.3ZM381.8,194.8L383.5,194.8L383.6,195.7L382.0,195.7L381.8,194.8ZM384.2,196.5L385.9,196.2L385.8,197.0L384.2,196.5Z" fill="#fdbb84" stroke="#5a3a30" stroke-opacity="0.75" stroke-width="0.4"/>
<path d="M351.6,208.4L354.6,207.6L356.2,207.0L359.2,207.0L361.0,206.6L363.6,206.6L365.8,205.6L365.8,205.0L364.2,204.7L366.3,202.0L363.8,201.1L363.2,199.5L362.6,198.0L360.5,196.5L359.9,194.8L359.2,193.8L356.9,193.5L358.1,192.6L359.2,190.9L359.6,189.6L356.4,189.4L355.5,189.6L357.2,187.2L353.7,187.2L352.1,189.6L352.4,192.1L351.2,192.1L352.3,193.5L352.1,195.3L353.6,194.3L353.7,196.2L353.2,196.7L356.1,196.2L356.2,197.5L357.2,198.7L357.0,200.0L354.4,200.2L353.8,201.5L354.9,202.2L352.7,203.7L354.5,204.5L356.9,205.0L357.7,204.6L356.1,205.3L354.5,205.5L352.8,207.7L351.6,208.4ZM347.5,197.5L348.9,195.9L351.1,195.4L352.4,196.9L351.7,198.2L350.8,198.2L348.5,198.1L347.5,197.5Z" fill="#fdd49e" stroke="#5a3a30" stroke-opacity="0.75" stroke-width="0.4"/>
<path d="M350.8,198.2L351.1,200.0L351.1,201.2L350.4,203.0L347.2,204.1L343.6,204.8L342.5,203.2L344.2,202.0L344.6,200.7L343.3,199.7L343.6,198.0L346.3,197.7L346.4,196.7L346.8,195.7L349.0,195.1L348.9,195.9L347.5,197.5L348.5,198.1L350.8,198.2Z" fill="#fdbb84" stroke="#5a3a30" stroke-opacity="0.75" stroke-width="0.4"/>
<path d="M368.1,205.8L366.2,206.2L366.2,208.0L363.4,209.2L360.6,210.0L360.4,209.2L359.2,209.2L359.8,211.9L356.9,211.5L353.5,212.3L354.3,214.1L357.3,214.8L358.7,215.6L360.5,218.1L360.7,219.9L360.5,222.2L359.9,225.1L359.2,225.3L360.1,226.1L361.5,226.6L364.5,227.1L365.9,227.4L366.6,227.7L368.2,228.0L369.7,227.8L369.3,226.1L370.3,225.6L371.8,225.2L373.4,225.5L374.3,225.8L376.0,226.2L377.0,225.8L378.6,224.4L379.0,223.4L377.5,223.0L377.3,221.5L377.4,219.9L377.0,219.0L377.5,218.8L376.9,217.6L375.6,218.3L375.5,217.4L377.1,215.3L378.5,214.6L378.4,213.3L379.5,211.0L377.1,210.6L375.9,209.9L374.6,209.6L372.8,209.0L372.6,208.1L371.3,208.5L371.4,207.7L369.4,206.6L368.1,205.8ZM381.0,227.9L382.7,226.4L383.1,228.7L382.4,230.5L381.1,229.2L381.0,227.9Z" fill="#d7301f" stroke="#5a3a30" stroke-opacity="0.75" stroke-width="0.4"/>
<path d="M359.2,225.3L355.1,225.2L351.1,224.8L346.6,224.4L343.6,226.2L344.3,228.9L345.8,228.7L346.0,229.3L349.1,229.1L349.9,230.0L348.4,231.5L348.1,233.6L347.0,235.0L348.1,236.5L347.4,238.3L348.0,238.8L347.1,241.4L349.2,242.6L349.4,243.2L350.9,244.5L351.5,244.1L353.5,242.7L358.3,242.7L359.6,240.9L361.5,240.4L362.8,237.5L363.4,237.4L362.4,235.7L364.5,232.0L367.6,230.5L369.9,228.2L369.7,227.8L368.2,228.0L366.6,227.7L365.9,227.4L364.5,227.1L361.5,226.6L360.1,226.1L359.2,225.3Z" fill="#ef6548" stroke="#5a3a30" stroke-opacity="0.75" stroke-width="0.4"/>
<path d="M344.3,228.9L344.6,231.0L344.3,233.6L343.0,235.7L342.7,237.4L343.3,238.3L344.2,238.3L344.1,239.6L343.6,241.9L346.0,241.9L347.1,241.4L348.0,238.8L347.4,238.3L348.1,236.5L347.0,235.0L348.1,233.6L348.4,231.5L349.9,230.0L349.1,229.1L346.0,229.3L345.8,228.7L344.3,228.9Z" fill="#ef6548" stroke="#5a3a30" stroke-opacity="0.75" stroke-width="0.4"/>
<path d="M376.7,200.2L378.6,199.2L379.6,199.5L380.3,198.2L379.6,196.2L381.1,196.5L382.3,197.2L384.3,197.5L384.0,198.5L387.2,197.5L389.3,197.2L390.6,198.7L391.1,200.2L390.6,201.5L391.7,202.5L392.1,204.5L392.8,205.7L392.4,206.3L391.4,205.8L389.9,206.7L388.7,207.5L387.2,207.7L388.1,209.2L389.1,210.3L390.8,211.5L390.7,212.2L390.1,212.5L388.9,213.2L389.4,214.1L389.6,214.8L387.8,214.6L385.4,215.1L384.4,214.7L382.5,214.7L380.5,214.3L378.5,214.6L378.4,213.3L379.5,211.0L377.1,210.6L375.9,209.9L376.0,209.0L375.2,208.2L375.6,207.5L374.9,206.6L375.3,205.0L374.8,204.0L376.4,203.6L376.9,202.8L376.2,202.0L377.1,200.5L376.7,200.2Z" fill="#fc8d59" stroke="#5a3a30" stroke-opacity="0.75" stroke-width="0.4"/>
<path d="M369.7,205.1L370.9,203.5L372.2,201.2L373.6,200.5L375.1,199.8L376.7,200.2L377.1,200.5L376.2,202.0L376.9,202.8L376.4,203.6L374.8,204.0L375.3,205.0L374.9,206.6L374.3,206.6L374.5,205.6L372.9,204.8L371.5,205.1L369.7,205.1Z" fill="#fc8d59" stroke="#5a3a30" stroke-opacity="0.75" stroke-width="0.4"/>
<path d="M368.1,205.8L369.7,205.1L371.5,205.1L372.9,204.8L374.5,205.6L374.3,206.6L374.9,206.6L375.6,207.5L375.2,208.2L374.6,209.6L372.8,209.0L372.6,208.1L371.3,208.5L371.4,207.7L369.4,206.6L368.1,205.8Z" fill="#ef6548" stroke="#5a3a30" stroke-opacity="0.75" stroke-width="0.4"/>
<path d="M374.6,209.6L375.2,208.2L376.0,209.0L375.9,209.9L374.6,209.6Z" fill="#fc8d59" stroke="#5a3a30" stroke-opacity="0.75" stroke-width="0.4"/>
<path d="M375.6,218.3L375.5,217.4L377.1,215.3L378.5,214.6L380.5,214.3L382.5,214.7L382.4,216.0L384.3,216.4L383.7,218.0L382.1,217.5L381.5,219.0L380.2,217.6L379.2,218.8L377.5,218.8L376.9,217.6L375.6,218.3Z" fill="#ef6548" stroke="#5a3a30" stroke-opacity="0.75" stroke-width="0.4"/>
<path d="M382.5,214.7L384.4,214.7L385.4,215.1L387.8,214.6L389.6,214.8L389.4,214.1L388.9,213.2L390.1,212.5L390.7,212.2L390.8,211.5L392.7,212.0L393.2,211.0L395.5,211.6L397.2,212.0L397.8,213.6L397.3,214.3L396.5,215.1L396.7,216.1L395.9,216.5L395.0,216.9L392.8,217.6L391.1,217.4L388.4,216.9L387.8,216.1L385.8,216.2L384.3,216.4L382.4,216.0L382.5,214.7Z" fill="#fc8d59" stroke="#5a3a30" stroke-opacity="0.75" stroke-width="0.4"/>
<path d="M378.6,224.4L380.0,223.8L381.5,222.8L383.4,223.7L384.5,225.1L385.0,226.5L386.3,227.9L387.6,228.7L388.9,229.7L390.4,230.9L391.9,230.9L392.8,232.0L394.4,232.6L394.8,233.6L396.1,234.0L397.1,235.7L397.4,236.7L396.7,239.3L397.6,239.4L398.5,237.2L399.7,236.7L399.4,235.7L398.1,234.9L398.8,233.0L401.3,234.2L402.1,234.6L402.3,233.7L401.1,232.4L398.9,231.3L396.6,230.4L397.1,229.2L394.8,229.1L392.8,227.7L391.3,224.8L389.2,223.7L388.5,222.8L388.6,221.2L388.4,220.2L390.0,219.3L391.3,219.7L390.9,218.8L390.5,217.9L391.1,217.4L388.4,216.9L387.8,216.1L385.8,216.2L384.3,216.4L383.7,218.0L382.1,217.5L381.5,219.0L380.2,217.6L379.2,218.8L377.5,218.8L377.0,219.0L377.4,219.9L377.3,221.5L377.5,223.0L379.0,223.4L378.6,224.4ZM389.7,239.8L391.5,238.8L396.4,238.5L395.5,241.1L395.6,242.8L393.8,242.2L391.8,241.1L389.7,239.8ZM380.2,231.8L382.4,230.9L383.8,232.8L383.5,236.2L382.2,236.6L380.9,236.7L380.9,234.1L380.2,231.8Z" fill="#fc8d59" stroke="#5a3a30" stroke-opacity="0.75" stroke-width="0.4"/>
<path d="M391.3,219.7L390.9,218.8L390.5,217.9L391.1,217.4L392.8,217.6L395.0,216.9L395.9,216.5L396.8,217.4L395.2,218.1L395.3,219.0L394.5,220.1L393.1,219.7L391.6,219.9L391.3,219.7Z" fill="#fc8d59" stroke="#5a3a30" stroke-opacity="0.75" stroke-width="0.4"/>
<path d="M390.8,219.9L391.8,221.7L392.5,220.4L393.8,221.2L394.5,223.0L396.4,225.1L399.6,226.4L401.8,227.8L401.7,227.5L399.9,226.4L399.0,225.2L396.6,223.3L395.6,221.7L395.6,220.7L397.1,220.7L398.1,220.7L400.2,221.0L402.3,221.6L403.0,220.7L402.3,219.9L401.7,218.9L399.2,218.9L397.7,217.9L396.8,217.4L395.2,218.1L395.3,219.0L394.5,220.1L393.1,219.7L391.6,219.9L390.8,219.9Z" fill="#b30000" stroke="#5a3a30" stroke-opacity="0.75" stroke-width="0.4"/>
<path d="M395.6,221.7L396.6,223.3L399.0,225.2L399.9,226.4L401.7,227.5L402.1,225.7L403.0,225.1L403.6,224.8L403.1,223.0L402.6,222.5L403.0,221.5L402.3,221.6L400.2,221.0L398.1,220.7L397.1,220.7L395.6,220.7L395.6,221.7Z" fill="#b30000" stroke="#5a3a30" stroke-opacity="0.75" stroke-width="0.4"/>
<path d="M401.7,218.9L403.2,218.3L404.6,218.4L405.8,219.3L407.4,220.7L407.3,221.6L408.9,222.5L409.5,222.0L410.0,222.4L410.0,223.3L409.6,223.8L409.5,224.3L411.0,225.8L410.1,226.6L409.9,228.2L408.4,228.3L408.6,227.3L407.8,226.6L406.4,225.7L405.6,226.8L404.7,226.1L403.0,225.1L403.6,224.8L403.1,223.0L402.6,222.5L403.0,221.5L402.3,221.6L403.0,220.7L402.3,219.9L401.7,218.9Z" fill="#b30000" stroke="#5a3a30" stroke-opacity="0.75" stroke-width="0.4"/>
<path d="M405.0,227.4L405.6,226.8L406.4,225.7L407.8,226.6L408.6,227.3L408.4,228.3L407.3,228.4L406.7,229.2L406.2,228.4L405.0,227.4Z" fill="url(#hatch)" stroke="#c8c8c8" stroke-width="0.5"/>
<path d="M401.8,227.8L401.7,227.5L402.1,225.7L403.0,225.1L404.7,226.1L405.6,226.8L405.0,227.4L404.1,227.5L403.5,228.4L403.7,229.3L401.8,227.8Z" fill="#d7301f" stroke="#5a3a30" stroke-opacity="0.75" stroke-width="0.4"/>
<path d="M403.7,229.3L403.5,228.4L404.1,227.5L405.0,227.4L406.2,228.4L406.1,230.1L406.3,230.8L406.9,231.8L407.6,232.4L406.9,233.9L406.0,235.0L405.6,234.9L404.2,233.3L404.1,231.5L404.2,230.1L403.7,229.3Z" fill="#fc8d59" stroke="#5a3a30" stroke-opacity="0.75" stroke-width="0.4"/>
<path d="M406.1,230.1L406.2,228.4L406.7,229.2L407.3,228.4L408.4,228.3L409.9,228.2L411.4,229.6L411.4,230.6L411.1,231.1L409.4,231.3L407.6,232.4L406.9,231.8L406.3,230.8L406.1,230.1Z" fill="url(#hatch)" stroke="#c8c8c8" stroke-width="0.5"/>
<path d="M405.6,234.9L406.0,235.0L406.9,233.9L407.6,232.4L409.4,231.3L411.1,231.1L411.4,230.6L414.6,230.1L416.4,230.9L418.1,230.6L418.5,229.7L419.1,230.6L418.7,231.7L418.1,232.2L416.1,231.7L414.6,231.7L413.2,232.3L414.8,233.7L412.7,233.5L411.5,232.8L411.0,234.1L412.0,235.9L412.6,237.0L414.6,238.8L414.6,240.2L413.4,239.3L412.7,239.6L412.9,241.1L412.9,243.4L411.6,243.4L409.8,242.4L408.8,240.2L408.7,238.8L411.2,238.8L408.2,238.4L407.3,236.8L405.8,235.7L405.6,234.9ZM414.1,245.7L415.3,245.6L419.0,246.3L420.1,246.3L420.0,247.1L416.8,247.3L414.1,246.5L414.1,245.7ZM412.8,237.0L414.8,237.8L415.8,239.1L414.4,238.5L412.8,237.0ZM423.1,243.5L423.9,243.5L423.6,244.8L423.1,243.5ZM418.4,235.9L419.8,236.5L419.2,236.7L418.4,235.9ZM404.9,234.6L405.8,235.7L405.3,235.7L404.9,234.6Z" fill="#d7301f" stroke="#5a3a30" stroke-opacity="0.75" stroke-width="0.4"/>
<path d="M409.9,228.2L410.1,226.6L411.0,225.8L409.5,224.3L409.6,223.8L410.0,223.3L410.9,224.2L414.0,224.4L416.3,224.7L419.1,223.4L422.6,224.4L421.4,225.3L421.4,227.1L420.7,227.7L421.9,228.9L420.0,228.7L418.5,229.7L418.1,230.6L416.4,230.9L414.6,230.1L411.4,230.6L411.4,229.6L409.9,228.2Z" fill="#b30000" stroke="#5a3a30" stroke-opacity="0.75" stroke-width="0.4"/>
<path d="M404.6,218.4L406.4,217.6L407.8,214.7L409.4,213.6L413.6,214.2L416.9,212.9L418.5,214.3L420.7,217.1L421.1,220.1L422.2,220.6L424.2,220.7L424.2,221.2L422.6,223.0L422.6,224.4L419.1,223.4L416.3,224.7L414.0,224.4L410.9,224.2L410.0,223.3L410.0,222.4L409.5,222.0L408.9,222.5L407.3,221.6L407.4,220.7L405.8,219.3L404.6,218.4Z" fill="#ef6548" stroke="#5a3a30" stroke-opacity="0.75" stroke-width="0.4"/>
<path d="M395.9,216.5L396.7,216.1L396.5,215.1L397.3,214.3L397.8,213.6L399.2,214.2L401.2,213.9L402.7,213.0L404.4,212.3L406.9,212.7L407.8,212.5L409.4,213.6L407.8,214.7L406.4,217.6L404.6,218.4L403.2,218.3L401.7,218.9L399.2,218.9L397.7,217.9L396.8,217.4L395.9,216.5Z" fill="#d7301f" stroke="#5a3a30" stroke-opacity="0.75" stroke-width="0.4"/>
<path d="M397.2,212.0L397.8,213.6L399.2,214.2L401.2,213.9L402.7,213.0L404.4,212.3L406.9,212.7L407.8,212.5L408.4,210.8L406.4,210.0L403.4,210.5L402.1,209.6L400.9,209.7L399.3,211.0L397.7,211.4L397.2,212.0Z" fill="#d7301f" stroke="#5a3a30" stroke-opacity="0.75" stroke-width="0.4"/>
<path d="M387.2,207.7L388.7,207.5L389.9,206.7L391.4,205.8L392.4,206.3L392.8,206.0L395.5,206.8L396.7,207.5L397.0,208.0L399.0,208.5L400.9,209.7L399.3,211.0L397.7,211.4L397.2,212.0L395.5,211.6L393.2,211.0L392.7,212.0L390.8,211.5L389.1,210.3L388.1,209.2L387.2,207.7Z" fill="#ef6548" stroke="#5a3a30" stroke-opacity="0.75" stroke-width="0.4"/>
<path d="M390.6,198.7L394.4,197.7L396.8,196.6L398.5,196.5L399.2,197.5L400.9,197.4L407.1,197.6L408.6,198.6L409.9,201.7L408.7,202.7L409.8,204.5L410.9,206.3L410.9,207.2L408.5,209.6L408.4,210.8L406.4,210.0L403.4,210.5L402.1,209.6L400.9,209.7L399.0,208.5L397.0,208.0L396.7,207.5L395.5,206.8L392.8,206.0L392.4,206.3L392.8,205.7L392.1,204.5L391.7,202.5L390.6,201.5L391.1,200.2L390.6,198.7Z" fill="#fc8d59" stroke="#5a3a30" stroke-opacity="0.75" stroke-width="0.4"/>
<path d="M403.2,193.4L404.9,192.6L408.9,192.9L410.4,192.6L411.8,193.2L413.9,194.3L414.5,195.3L412.7,196.2L412.8,197.7L410.4,198.7L408.6,198.6L407.1,197.6L406.5,195.9L403.9,195.4L403.5,195.3L403.2,193.4Z" fill="#d7301f" stroke="#5a3a30" stroke-opacity="0.75" stroke-width="0.4"/>
<path d="M403.2,193.4L402.8,191.6L403.7,189.8L405.5,189.3L406.8,190.2L408.6,191.0L408.7,188.9L410.5,188.7L412.9,189.8L414.5,189.8L415.5,190.4L416.7,193.2L415.8,194.0L413.9,194.3L411.8,193.2L410.4,192.6L408.9,192.9L404.9,192.6L403.2,193.4Z" fill="#d7301f" stroke="#5a3a30" stroke-opacity="0.75" stroke-width="0.4"/>
<path d="M408.7,188.9L408.8,187.9L406.8,187.0L406.6,185.8L408.9,185.0L411.1,184.8L414.9,185.2L414.2,186.7L414.4,187.9L414.5,189.8L412.9,189.8L410.5,188.7L408.7,188.9ZM404.0,187.9L405.1,187.1L406.3,187.5L405.5,188.3L404.0,187.9ZM404.1,186.5L405.6,186.2L405.5,186.9L404.1,186.5Z" fill="#ef6548" stroke="#5a3a30" stroke-opacity="0.75" stroke-width="0.4"/>
<path d="M408.6,198.6L410.4,198.7L412.8,197.7L412.7,196.2L414.5,195.3L413.9,194.3L415.8,194.0L416.7,193.2L419.2,193.7L422.2,194.5L422.4,196.5L424.7,198.2L426.8,199.8L424.4,200.5L425.7,203.2L423.6,205.1L421.0,205.0L416.8,204.5L412.3,203.7L409.8,204.5L408.7,202.7L409.9,201.7L408.6,198.6Z" fill="#d7301f" stroke="#5a3a30" stroke-opacity="0.75" stroke-width="0.4"/>
<path d="M407.8,212.5L408.4,210.8L408.5,209.6L410.9,207.2L410.9,206.3L409.8,204.5L412.3,203.7L416.8,204.5L421.0,205.0L423.6,205.1L425.7,203.2L429.5,202.6L431.2,205.3L434.1,207.6L439.1,208.7L443.5,209.5L443.8,213.9L441.0,215.8L438.0,216.7L435.2,217.9L435.0,219.4L438.5,220.3L436.2,221.2L432.9,222.8L430.0,220.3L432.1,218.9L429.3,218.4L428.1,217.4L426.0,217.4L424.2,220.7L422.2,220.6L421.1,220.1L422.5,218.7L424.7,217.6L423.7,217.6L422.3,215.0L420.6,213.3L418.8,212.4L416.9,212.9L413.6,214.2L409.4,213.6L407.8,212.5Z" fill="#fc8d59" stroke="#5a3a30" stroke-opacity="0.75" stroke-width="0.4"/>
<path d="M416.9,212.9L418.8,212.4L420.6,213.3L422.3,215.0L423.7,217.6L424.7,217.6L422.5,218.7L421.1,220.1L420.7,217.1L418.5,214.3L416.9,212.9Z" fill="#ef6548" stroke="#5a3a30" stroke-opacity="0.75" stroke-width="0.4"/>
<path d="M433.2,247.0L434.6,246.2L437.9,245.4L436.8,247.1L434.9,248.2L433.2,247.0Z" fill="#b30000" stroke="#5a3a30" stroke-opacity="0.75" stroke-width="0.4"/>
<path d="M394.0,244.5L394.6,244.8L394.2,245.0L394.0,244.5Z" fill="#ef6548" stroke="#5a3a30" stroke-opacity="0.75" stroke-width="0.4"/>
<path d="M637.0,227.8L636.7,225.3L633.9,221.5L634.9,220.4L637.9,221.0L637.2,218.7L635.8,215.1L635.6,212.5L632.3,214.3L629.2,214.3L626.3,211.3L618.7,209.0L617.6,207.7L610.2,201.7L603.8,199.6L599.3,200.2L598.4,201.7L600.4,204.2L601.0,208.2L599.7,209.7L596.8,208.9L597.6,213.8L601.7,214.4L603.4,213.7L608.1,216.6L603.6,217.6L602.1,217.9L601.8,219.9L598.3,221.7L594.2,221.1L594.1,222.8L596.1,224.6L594.3,227.1L588.3,229.5L584.3,230.0L574.4,227.3L566.5,226.9L564.9,227.0L561.1,223.1L556.5,221.3L550.5,220.4L548.6,217.1L548.8,216.1L546.0,214.1L540.9,212.3L539.7,210.6L538.8,210.8L536.6,212.5L537.5,216.0L532.2,215.6L532.5,219.7L533.3,220.7L528.2,221.5L529.6,222.2L531.8,225.8L531.6,228.4L528.5,230.8L525.6,231.5L524.2,233.1L521.6,233.0L520.0,234.6L519.9,235.5L521.2,238.0L523.4,238.1L524.3,241.3L523.8,241.9L526.9,243.0L528.1,245.0L531.8,245.8L535.0,248.8L535.8,251.6L537.3,253.0L535.0,253.4L536.4,256.3L539.1,257.7L542.2,259.7L544.6,259.4L549.1,262.0L553.9,264.6L554.5,265.5L559.2,265.7L560.7,265.3L561.3,267.1L562.6,264.9L564.1,264.6L567.0,265.5L568.0,266.1L570.2,263.8L572.9,262.0L574.8,262.5L576.9,262.0L577.0,264.4L579.8,264.9L581.7,266.4L583.1,266.7L584.0,270.9L582.1,273.8L582.5,276.1L585.1,275.6L585.7,277.9L587.0,278.7L586.8,280.7L589.3,282.4L591.5,282.2L593.0,283.2L592.4,279.9L593.3,279.9L595.2,279.8L597.5,279.6L600.2,277.5L603.2,278.7L603.8,281.1L605.8,282.0L607.1,282.2L609.5,282.5L611.0,282.4L611.8,285.5L612.7,285.5L612.7,283.2L615.5,282.1L619.1,280.5L620.6,280.3L623.3,279.1L625.7,277.5L628.3,274.5L630.8,271.9L630.7,270.6L631.4,267.2L632.3,264.9L633.4,262.0L633.2,260.4L631.5,259.4L630.3,259.1L632.1,257.8L631.3,255.7L628.3,253.4L625.3,249.0L622.2,247.4L623.4,244.4L627.2,242.2L627.0,240.9L624.0,240.5L622.2,239.8L619.3,241.4L618.1,239.3L615.1,238.3L614.3,236.2L616.8,235.9L617.1,234.4L619.0,231.9L620.9,231.8L622.0,232.8L622.1,236.7L622.1,237.4L623.6,235.4L624.8,234.9L627.3,234.1L628.5,232.3L630.2,229.5L633.0,230.4L632.4,228.9L634.1,227.9L634.7,226.4L637.0,227.8ZM609.6,288.4L611.4,286.0L613.5,286.0L614.6,287.2L613.8,289.4L612.0,291.0L609.9,290.2L609.6,288.4Z" fill="#fc8d59" stroke="#5a3a30" stroke-opacity="0.75" stroke-width="0.4"/>
<path d="M634.4,273.0L635.5,272.5L636.7,273.2L636.4,275.8L636.4,278.2L635.8,281.3L634.0,279.5L633.2,276.9L634.0,274.3L634.4,273.0Z" fill="url(#hatch)" stroke="#c8c8c8" stroke-width="0.5"/>
<path d="M539.7,210.6L540.1,210.5L542.4,208.7L546.1,206.6L551.9,208.0L558.0,209.0L558.8,207.2L557.4,205.7L557.9,203.2L565.1,205.0L566.9,207.0L574.6,207.6L581.1,210.1L588.1,210.0L591.3,207.7L596.8,208.9L597.6,213.8L601.7,214.4L603.4,213.7L608.1,216.6L603.6,217.6L602.1,217.9L601.8,219.9L598.3,221.7L594.2,221.1L594.1,222.8L596.1,224.6L594.3,227.1L588.3,229.5L584.3,230.0L574.4,227.3L566.5,226.9L564.9,227.0L561.1,223.1L556.5,221.3L550.5,220.4L548.6,217.1L548.8,216.1L546.0,214.1L540.9,212.3L539.7,210.6Z" fill="#ef6548" stroke="#5a3a30" stroke-opacity="0.75" stroke-width="0.4"/>
<path d="M627.3,234.1L629.6,235.2L630.4,235.9L630.7,237.8L630.4,239.1L633.0,240.0L635.1,239.8L635.3,238.5L637.6,237.8L634.9,236.2L634.4,234.6L636.2,232.8L637.4,231.9L636.5,230.2L636.4,228.9L637.4,228.2L637.0,227.8L634.7,226.4L634.1,227.9L632.4,228.9L633.0,230.4L630.2,229.5L628.5,232.3L627.3,234.1Z" fill="#fdbb84" stroke="#5a3a30" stroke-opacity="0.75" stroke-width="0.4"/>
<path d="M635.1,239.8L635.9,241.9L635.3,242.4L636.7,244.3L637.7,246.9L638.0,248.2L638.8,249.0L640.6,247.7L642.7,247.4L643.7,246.7L643.2,244.5L641.9,241.9L639.8,239.8L637.6,237.8L635.3,238.5L635.1,239.8Z" fill="#fdbb84" stroke="#5a3a30" stroke-opacity="0.75" stroke-width="0.4"/>
<path d="M648.8,249.9L649.2,248.4L650.6,246.1L652.1,245.7L654.6,245.4L656.3,245.4L657.8,245.3L657.4,244.0L657.9,242.4L658.3,240.6L658.6,242.4L661.1,241.1L661.8,238.8L661.8,236.7L660.0,234.2L659.6,232.6L659.3,231.0L660.3,230.2L661.5,230.5L663.0,232.8L665.5,235.2L666.2,238.5L665.7,239.8L666.9,241.9L667.0,243.7L668.2,245.2L667.8,246.7L667.1,247.3L666.2,245.6L665.4,246.6L665.5,248.0L664.0,247.0L663.9,248.0L661.5,248.0L660.6,247.1L661.4,249.0L659.9,251.2L658.0,250.0L657.5,249.0L657.7,247.9L655.9,247.8L654.7,248.4L653.5,248.8L651.6,249.0L650.7,249.7L648.8,249.9ZM648.8,250.0L650.9,250.8L651.9,252.1L652.3,253.1L652.6,256.5L651.4,257.6L650.0,256.8L649.0,254.2L647.5,253.1L646.9,251.6L648.1,250.8L648.8,250.0ZM652.5,251.0L653.2,249.5L655.5,248.8L657.2,250.3L656.8,251.7L654.9,251.0L654.7,253.0L652.5,251.0ZM658.8,230.5L656.1,227.4L656.0,225.6L658.2,225.6L656.6,222.5L655.1,220.2L655.5,219.9L660.0,222.8L663.0,223.8L664.6,222.9L665.4,224.8L667.3,225.5L665.1,226.5L664.4,228.9L660.0,227.4L658.8,228.0L657.2,227.7L660.2,229.5L659.3,229.6L658.8,230.5Z" fill="#fdbb84" stroke="#5a3a30" stroke-opacity="0.75" stroke-width="0.4"/>
<path d="M463.9,217.9L466.3,216.1L471.3,216.4L472.7,220.4L468.6,220.4L467.4,223.0L469.9,225.8L473.0,227.1L473.6,229.6L476.8,228.2L480.2,230.8L481.2,230.8L478.7,221.2L483.7,219.7L489.5,222.8L492.3,225.1L498.2,224.6L501.2,226.4L501.8,228.9L502.9,229.2L507.1,232.0L508.8,230.5L511.2,228.7L512.0,228.3L512.1,226.9L516.7,226.4L518.0,225.8L521.2,226.8L528.6,226.9L531.6,228.4L531.8,225.8L529.6,222.2L528.2,221.5L533.3,220.7L532.5,219.7L532.2,215.6L537.5,216.0L536.6,212.5L538.8,210.8L534.0,209.5L527.9,206.0L525.2,206.5L522.4,206.5L515.1,200.2L511.5,198.5L505.5,198.5L501.0,198.0L499.4,195.3L495.5,195.1L489.2,197.6L482.0,198.5L482.1,200.2L483.7,201.2L481.3,203.5L485.3,205.2L485.2,206.5L481.8,207.1L477.8,205.7L474.0,207.0L466.9,204.7L463.4,204.2L460.1,207.0L457.1,208.7L457.4,211.3L458.3,212.8L460.5,214.1L463.2,216.9L462.3,217.1L463.9,217.9Z" fill="#fc8d59" stroke="#5a3a30" stroke-opacity="0.75" stroke-width="0.4"/>
<path d="M481.2,230.8L478.7,221.2L483.7,219.7L489.5,222.8L492.3,225.1L498.2,224.6L501.2,226.4L501.8,228.9L502.9,229.2L507.1,232.0L508.8,230.5L511.2,228.7L512.0,228.3L513.9,230.8L517.7,232.0L515.2,233.6L512.3,233.1L512.3,231.8L509.7,232.0L508.6,233.6L509.1,235.2L507.5,236.5L509.4,238.8L509.0,241.4L506.1,241.0L503.6,238.8L499.7,236.8L495.8,234.1L493.8,231.3L489.8,230.5L489.0,228.4L485.8,227.1L483.3,230.8L481.2,230.8Z" fill="#fdbb84" stroke="#5a3a30" stroke-opacity="0.75" stroke-width="0.4"/>
<path d="M473.6,229.6L476.8,228.2L480.2,230.8L481.2,230.8L483.3,230.8L485.8,227.1L489.0,228.4L489.8,230.5L493.8,231.3L495.8,234.1L499.7,236.8L503.6,238.8L506.1,241.0L504.3,240.6L502.6,241.7L502.5,243.7L499.9,244.9L498.3,246.3L495.9,245.6L494.9,242.8L493.2,243.0L490.5,240.6L486.1,238.8L483.8,239.2L480.9,240.8L479.0,241.0L478.0,237.0L476.2,235.9L476.5,234.2L475.4,234.1L474.7,232.8L474.9,231.8L476.4,232.0L477.8,231.5L477.9,230.2L476.7,229.5L475.1,229.7L474.7,230.8L473.6,229.6Z" fill="#fee8c8" stroke="#5a3a30" stroke-opacity="0.75" stroke-width="0.4"/>
<path d="M512.0,228.3L512.1,226.9L516.7,226.4L518.0,225.8L521.2,226.8L528.6,226.9L531.6,228.4L528.5,230.8L525.6,231.5L524.2,233.1L521.6,233.0L520.0,234.6L519.9,235.5L517.5,235.7L516.1,235.9L513.4,235.3L510.6,235.3L510.6,233.9L512.3,233.1L515.2,233.6L517.7,232.0L513.9,230.8L512.0,228.3Z" fill="#ef6548" stroke="#5a3a30" stroke-opacity="0.75" stroke-width="0.4"/>
<path d="M509.0,241.4L509.4,238.8L507.5,236.5L509.1,235.2L508.6,233.6L509.7,232.0L512.3,231.8L512.3,233.1L510.6,233.9L510.6,235.3L513.4,235.3L516.1,235.9L517.5,235.7L519.9,235.5L521.2,238.0L523.4,238.1L524.3,241.3L520.7,240.8L518.0,242.7L516.5,239.6L513.6,238.3L513.9,240.4L512.5,241.5L509.0,241.4Z" fill="url(#hatch)" stroke="#c8c8c8" stroke-width="0.5"/>
<path d="M495.9,245.6L498.3,246.3L499.9,244.9L502.5,243.7L502.6,241.7L504.3,240.6L506.1,241.0L509.0,241.4L512.5,241.5L513.9,240.4L513.6,238.3L516.5,239.6L518.0,242.7L520.7,240.8L524.3,241.3L523.8,241.9L522.6,242.3L519.4,242.4L517.7,243.4L517.1,244.4L518.5,246.6L517.7,248.4L518.2,249.6L515.6,249.7L516.8,251.4L515.1,253.7L515.4,255.2L512.2,256.5L510.1,257.1L509.8,260.6L501.6,261.7L497.8,260.5L499.4,258.0L499.0,256.5L497.0,256.3L496.2,254.4L495.3,250.7L495.8,249.0L495.9,245.6Z" fill="#fc8d59" stroke="#5a3a30" stroke-opacity="0.75" stroke-width="0.4"/>
<path d="M501.2,272.7L505.4,272.7L507.9,272.7L512.3,272.2L512.7,273.6L514.8,276.1L516.4,276.6L517.6,275.1L522.5,274.8L520.5,271.4L518.3,268.8L519.8,265.4L523.1,265.5L524.9,262.8L526.6,260.2L527.6,257.3L526.8,255.0L528.6,254.2L526.1,252.9L525.0,251.8L523.9,249.0L524.7,247.7L528.4,247.9L530.4,247.1L531.8,245.8L528.1,245.0L526.9,243.0L523.8,241.9L522.6,242.3L519.4,242.4L517.7,243.4L517.1,244.4L518.5,246.6L517.7,248.4L518.2,249.6L515.6,249.7L516.8,251.4L515.1,253.7L515.4,255.2L512.2,256.5L510.1,257.1L509.8,260.6L501.6,261.7L497.8,260.5L500.1,263.6L502.7,264.8L503.1,267.4L504.3,267.8L504.3,269.1L501.5,269.8L501.2,272.7Z" fill="#fdbb84" stroke="#5a3a30" stroke-opacity="0.75" stroke-width="0.4"/>
<path d="M516.4,276.6L517.5,277.9L521.4,278.7L518.6,280.3L522.0,283.9L523.6,284.5L526.2,282.9L526.6,280.5L527.3,283.2L528.2,288.9L529.9,294.1L531.7,299.3L534.0,304.6L536.8,309.0L538.2,312.7L540.0,316.8L541.3,317.4L542.7,315.3L544.7,314.2L546.2,311.6L545.9,308.0L546.7,304.3L545.8,298.6L548.1,297.0L550.5,295.2L552.4,292.3L556.0,287.9L559.6,284.5L559.5,282.4L562.2,281.9L564.0,281.3L563.7,280.3L563.2,277.9L560.8,274.3L561.3,273.2L560.3,270.9L560.8,269.1L562.6,270.4L564.1,270.8L564.5,272.5L570.3,273.1L569.9,274.8L568.0,275.6L568.3,277.7L569.6,278.5L570.7,277.2L572.0,281.1L573.3,280.5L572.7,278.5L573.0,275.8L574.8,276.1L575.3,272.2L576.1,270.6L575.6,269.1L577.6,267.2L579.7,267.8L579.7,265.7L579.8,264.9L577.0,264.4L576.9,262.0L574.8,262.5L572.9,262.0L570.2,263.8L568.0,266.1L568.4,266.7L568.6,268.4L564.9,268.4L563.7,268.8L561.5,268.1L561.1,267.2L560.7,265.3L559.2,265.7L560.1,269.6L557.5,269.3L554.8,269.1L552.0,267.5L548.8,267.1L545.2,265.7L540.8,263.2L542.2,259.7L539.1,257.7L536.4,256.3L535.0,253.4L537.3,253.0L535.8,251.6L535.0,248.8L531.8,245.8L530.4,247.1L528.4,247.9L524.7,247.7L523.9,249.0L525.0,251.8L526.1,252.9L528.6,254.2L526.8,255.0L527.6,257.3L526.6,260.2L524.9,262.8L523.1,265.5L519.8,265.4L518.3,268.8L520.5,271.4L522.5,274.8L517.6,275.1L516.4,276.6Z" fill="#fc8d59" stroke="#5a3a30" stroke-opacity="0.75" stroke-width="0.4"/>
<path d="M540.8,263.2L542.2,259.7L544.6,259.4L549.1,262.0L553.9,264.6L554.5,265.5L559.2,265.7L560.1,269.6L557.5,269.3L554.8,269.1L552.0,267.5L548.8,267.1L545.2,265.7L540.8,263.2Z" fill="#ef6548" stroke="#5a3a30" stroke-opacity="0.75" stroke-width="0.4"/>
<path d="M561.1,267.2L561.3,267.1L562.6,264.9L564.1,264.6L567.0,265.5L568.0,266.1L568.4,266.7L568.6,268.4L564.9,268.4L563.7,268.8L561.5,268.1L561.1,267.2Z" fill="#fdbb84" stroke="#5a3a30" stroke-opacity="0.75" stroke-width="0.4"/>
<path d="M564.0,281.3L563.7,280.3L563.2,277.9L560.8,274.3L561.3,273.2L560.3,270.9L560.8,269.1L562.6,270.4L564.1,270.8L564.5,272.5L570.3,273.1L569.9,274.8L568.0,275.6L568.3,277.7L569.6,278.5L570.7,277.2L572.0,281.1L571.8,284.3L570.1,280.3L567.8,280.0L566.9,281.5L564.0,281.3Z" fill="#d7301f" stroke="#5a3a30" stroke-opacity="0.75" stroke-width="0.4"/>
<path d="M546.4,313.2L547.1,312.9L549.6,316.3L551.2,319.2L550.8,321.8L548.5,323.0L547.2,322.6L546.7,320.5L546.3,317.1L547.0,314.5L546.4,313.2Z" fill="#fdbb84" stroke="#5a3a30" stroke-opacity="0.75" stroke-width="0.4"/>
<path d="M571.8,284.3L572.0,281.1L573.3,280.5L572.7,278.5L573.0,275.8L574.8,276.1L575.3,272.2L576.1,270.6L575.6,269.1L577.6,267.2L579.7,267.8L579.7,265.7L579.8,264.9L581.7,266.4L583.1,266.7L584.0,270.9L582.1,273.8L582.5,276.1L585.1,275.6L585.7,277.9L587.0,278.7L586.8,280.7L589.3,282.4L591.5,282.2L589.6,285.4L588.2,285.4L587.3,286.8L585.1,286.9L584.9,290.2L584.2,290.2L585.1,292.0L587.4,294.9L587.6,298.6L589.6,302.2L590.1,305.3L591.2,307.7L589.6,311.6L589.2,312.4L588.8,308.5L589.1,306.4L588.6,304.0L587.2,302.0L586.2,298.6L585.3,295.4L583.5,293.6L582.2,295.7L580.6,297.4L578.7,297.0L577.9,296.7L578.0,293.1L577.1,289.9L575.4,287.3L573.4,285.9L571.8,284.3Z" fill="#990000" stroke="#5a3a30" stroke-opacity="0.75" stroke-width="0.4"/>
<path d="M589.6,285.4L590.7,285.9L590.8,287.6L592.4,287.5L592.8,288.8L592.8,292.7L595.0,291.1L596.2,291.6L597.6,290.5L599.1,290.7L601.3,292.8L601.6,295.4L603.6,297.4L604.1,300.4L603.4,301.2L602.4,300.9L598.4,301.2L597.5,303.0L597.1,303.1L598.3,306.0L598.8,308.1L597.1,306.7L594.2,305.5L593.8,303.4L591.8,303.6L591.8,305.6L592.1,306.7L591.3,309.3L590.7,311.4L591.1,314.2L592.6,314.2L593.5,316.6L594.4,319.7L596.3,320.6L598.0,322.2L597.3,323.5L595.9,323.8L595.3,322.2L593.5,321.0L593.3,321.7L592.4,320.6L591.3,318.7L590.1,317.6L589.0,317.9L588.8,316.6L588.8,314.5L589.2,312.4L589.6,311.6L591.2,307.7L590.1,305.3L589.6,302.2L587.6,298.6L587.4,294.9L585.1,292.0L584.2,290.2L584.9,290.2L585.1,286.9L587.3,286.8L588.2,285.4L589.6,285.4Z" fill="#fdbb84" stroke="#5a3a30" stroke-opacity="0.75" stroke-width="0.4"/>
<path d="M589.6,285.4L591.5,282.2L593.0,283.2L592.4,279.9L593.3,279.9L595.4,281.9L596.1,283.9L599.7,284.7L599.3,285.4L600.7,286.3L598.6,288.1L601.9,289.9L603.1,292.3L605.6,294.3L607.6,296.9L608.6,299.1L608.6,300.1L606.3,300.5L605.2,301.0L603.4,301.2L604.1,300.4L603.6,297.4L601.6,295.4L601.3,292.8L599.1,290.7L597.6,290.5L596.2,291.6L595.0,291.1L592.8,292.7L592.8,288.8L592.4,287.5L590.8,287.6L590.7,285.9L589.6,285.4Z" fill="#ef6548" stroke="#5a3a30" stroke-opacity="0.75" stroke-width="0.4"/>
<path d="M598.8,308.1L598.3,306.0L597.1,303.1L597.5,303.0L598.4,301.2L602.4,300.9L603.4,301.2L605.2,301.0L606.3,300.5L608.6,300.1L609.1,303.3L609.1,306.4L606.8,307.3L605.6,308.2L606.6,309.9L604.0,309.9L602.7,311.4L600.7,311.1L599.4,309.5L598.8,308.1Z" fill="#fdbb84" stroke="#5a3a30" stroke-opacity="0.75" stroke-width="0.4"/>
<path d="M607.1,282.2L604.9,283.8L604.4,285.8L603.1,287.9L603.0,289.4L605.0,291.8L606.8,294.1L609.6,296.5L611.5,298.6L612.6,302.0L613.1,304.6L613.3,307.2L612.9,308.9L610.7,310.6L608.8,311.5L607.9,312.4L607.6,313.7L604.9,315.8L603.7,316.0L603.7,313.4L604.2,312.4L602.7,311.4L604.0,309.9L606.6,309.9L605.6,308.2L606.8,307.3L609.1,306.4L609.1,303.3L608.6,300.1L608.6,299.1L607.6,296.9L605.6,294.3L603.1,292.3L601.9,289.9L598.6,288.1L600.7,286.3L599.3,285.4L599.7,284.7L596.1,283.9L595.4,281.9L593.3,279.9L595.2,279.8L597.5,279.6L600.2,277.5L603.2,278.7L603.8,281.1L605.8,282.0L607.1,282.2Z" fill="#fc8d59" stroke="#5a3a30" stroke-opacity="0.75" stroke-width="0.4"/>
<path d="M593.3,321.7L593.5,321.0L595.3,322.2L595.9,323.8L597.3,323.5L598.0,322.2L601.1,325.8L601.4,328.6L601.5,331.6L603.4,334.8L601.6,335.1L599.4,333.3L598.6,332.8L596.5,330.9L595.0,327.5L594.1,324.7L593.3,321.7ZM615.8,333.1L617.3,334.1L619.6,332.2L619.8,331.5L623.4,330.3L625.6,326.6L625.8,326.5L627.0,327.9L628.7,327.3L628.6,325.7L630.1,323.0L631.6,320.2L633.8,321.8L633.9,323.0L634.8,323.2L637.6,324.9L636.2,326.9L634.6,327.5L633.9,327.6L630.0,327.1L629.3,330.1L628.3,331.2L627.7,333.3L627.7,334.7L625.2,335.2L621.7,334.7L620.8,335.9L617.8,336.3L616.5,334.8L615.8,333.1Z" fill="#fc8d59" stroke="#5a3a30" stroke-opacity="0.75" stroke-width="0.4"/>
<path d="M625.8,326.5L627.0,327.9L628.7,327.3L628.6,325.7L627.1,325.8L625.8,326.5Z" fill="#fdbb84" stroke="#5a3a30" stroke-opacity="0.75" stroke-width="0.4"/>
<path d="M582.4,323.9L586.7,324.9L589.4,327.0L591.1,329.1L594.4,332.2L596.8,333.8L598.7,335.1L601.4,337.2L602.4,339.3L603.7,341.2L604.8,344.5L607.3,346.3L606.9,350.0L606.6,353.8L603.8,353.9L600.9,351.3L598.6,348.4L595.8,345.0L594.4,341.1L592.9,338.0L590.8,334.1L588.2,332.0L586.8,330.0L584.4,327.5L582.4,323.9ZM605.0,356.3L607.2,353.9L609.3,354.0L612.2,354.9L612.9,356.1L617.0,356.6L618.2,355.2L619.5,356.0L622.0,356.5L622.8,358.6L626.0,358.9L626.0,361.1L623.2,360.2L619.3,360.2L616.5,359.6L613.6,358.7L610.6,358.6L607.9,357.8L605.0,356.3ZM615.8,333.1L614.3,335.4L614.1,336.4L614.8,339.3L616.4,341.9L616.8,342.9L617.0,346.1L620.5,346.3L620.6,347.6L623.4,346.9L626.9,347.6L627.0,349.2L630.3,347.9L631.1,345.3L631.7,342.4L633.9,340.6L634.8,336.4L637.4,335.9L634.8,333.3L634.3,329.9L633.9,327.6L630.0,327.1L629.3,330.1L628.3,331.2L627.7,333.3L627.7,334.7L625.2,335.2L621.7,334.7L620.8,335.9L617.8,336.3L616.5,334.8L615.8,333.1ZM637.9,352.9L638.3,348.9L638.6,347.6L636.8,345.8L638.1,341.9L639.4,340.3L639.3,338.0L640.2,335.9L641.5,335.1L644.3,335.8L647.8,336.0L650.8,334.5L651.4,334.2L650.1,337.2L647.1,337.6L643.2,337.3L640.4,337.3L639.8,340.1L639.9,340.7L641.4,342.2L643.4,340.8L647.3,340.1L647.7,340.8L645.7,342.4L643.8,343.5L642.7,343.7L644.9,346.9L645.3,347.9L646.6,349.2L645.8,350.8L645.3,351.3L643.1,350.8L642.9,348.9L641.6,346.6L641.7,345.5L640.2,347.1L640.3,350.2L640.2,352.9L639.0,353.1L637.9,352.9ZM631.4,360.6L633.8,359.6L636.7,360.2L636.4,361.2L633.6,361.7L631.3,362.0L631.4,360.6ZM638.3,360.7L641.1,360.3L645.3,359.8L645.7,360.4L643.3,361.5L639.8,361.6L638.3,360.7ZM636.3,363.3L639.0,363.2L640.3,364.9L638.2,365.3L636.3,363.3ZM646.4,365.4L646.8,363.6L649.9,362.0L650.3,363.0L648.5,365.0L646.4,365.4ZM656.8,335.9L657.9,332.8L658.4,335.1L659.7,334.6L658.9,337.2L659.8,340.3L658.2,339.8L657.5,337.7L656.8,335.9ZM657.8,346.6L660.3,345.8L664.4,347.1L663.5,348.2L660.3,347.4L657.8,346.6ZM653.4,346.9L655.9,346.7L656.1,348.2L653.8,348.4L653.4,346.9ZM664.8,340.8L665.7,340.7L668.5,339.4L672.2,340.6L672.6,344.0L673.9,347.1L676.2,346.1L678.6,344.2L681.0,342.4L684.6,343.7L688.0,345.3L686.9,362.3L684.6,359.6L682.0,360.4L679.2,360.4L681.6,357.3L682.3,356.3L680.7,352.9L676.3,350.4L674.4,350.1L671.7,348.7L669.4,349.2L669.1,347.1L667.5,346.2L670.7,345.0L671.7,344.5L668.0,344.4L665.3,342.4L664.8,340.8Z" fill="#b30000" stroke="#5a3a30" stroke-opacity="0.75" stroke-width="0.4"/>
<path d="M650.3,363.0L649.9,362.0L652.1,360.7L655.6,360.4L654.6,361.3L650.3,363.0Z" fill="#b30000" stroke="#5a3a30" stroke-opacity="0.75" stroke-width="0.4"/>
<path d="M636.9,290.1L640.3,290.3L641.3,293.3L641.5,296.2L640.3,298.8L640.9,301.2L643.4,301.2L646.3,302.5L647.3,305.7L645.2,304.6L643.5,304.0L641.3,302.2L638.7,302.5L638.5,300.6L637.3,299.9L636.1,295.8L637.3,296.7L636.9,292.8L636.9,290.1ZM638.3,303.3L640.2,303.4L641.2,305.6L640.6,306.7L639.6,305.9L638.3,303.3ZM632.3,316.6L634.7,314.5L637.0,310.3L636.9,308.7L636.5,311.1L633.8,314.5L632.3,316.6ZM642.6,307.7L645.2,308.5L645.1,310.0L643.1,311.1L642.6,307.7ZM645.8,310.0L646.5,312.4L645.5,314.7L644.3,313.2L644.9,310.6L645.8,310.0ZM646.4,311.6L647.3,309.3L647.6,311.6L646.4,313.7L646.4,311.6ZM648.2,308.7L649.6,309.0L650.3,311.9L649.4,312.1L648.2,308.7ZM647.6,305.9L649.9,305.9L651.2,309.5L649.6,309.3L647.6,305.9ZM647.2,312.9L648.8,312.4L648.9,313.4L647.3,313.4L647.2,312.9ZM643.8,320.5L645.5,317.4L646.4,316.0L647.6,317.4L648.6,317.1L649.7,315.1L651.3,315.0L651.0,312.9L652.9,315.0L653.4,316.8L654.2,319.4L653.4,322.1L652.1,320.2L651.7,323.9L648.8,322.3L648.2,320.2L648.7,319.7L646.8,319.2L645.4,319.2L643.8,320.5Z" fill="#fc8d59" stroke="#5a3a30" stroke-opacity="0.75" stroke-width="0.4"/>
<path d="M467.7,238.1L468.5,240.4L471.0,240.9L473.0,242.4L476.3,242.7L479.2,242.1L479.0,241.0L480.9,240.8L483.8,239.2L486.1,238.8L490.5,240.6L493.2,243.0L494.9,242.8L495.9,245.6L495.8,249.0L495.3,250.7L496.2,254.4L497.0,256.3L499.0,256.5L499.4,258.0L497.8,260.5L500.1,263.6L502.7,264.8L503.1,267.4L504.3,267.8L504.3,269.1L501.5,269.8L501.2,272.7L495.3,272.2L492.5,271.5L490.3,268.0L488.9,267.8L485.5,269.3L482.5,268.8L480.3,267.0L477.5,265.7L475.9,263.1L473.8,259.7L471.3,258.9L470.5,260.3L469.1,258.9L468.3,257.6L468.2,255.0L464.0,252.4L462.1,249.7L462.8,247.1L462.9,245.0L461.3,244.5L459.5,241.5L457.9,238.3L456.9,235.7L458.4,234.9L460.0,236.7L461.6,237.1L462.4,237.0L464.8,235.0L466.0,235.7L465.6,237.2L467.7,238.1Z" fill="#fdd49e" stroke="#5a3a30" stroke-opacity="0.75" stroke-width="0.4"/>
<path d="M459.5,241.5L454.2,241.7L452.3,243.5L452.3,248.7L447.9,251.3L449.2,254.6L451.9,255.1L455.9,257.3L462.2,262.3L466.3,262.5L468.6,259.9L469.3,260.2L470.5,260.3L469.1,258.9L468.3,257.6L468.2,255.0L464.0,252.4L462.1,249.7L462.8,247.1L462.9,245.0L461.3,244.5L459.5,241.5Z" fill="#fdbb84" stroke="#5a3a30" stroke-opacity="0.75" stroke-width="0.4"/>
<path d="M466.3,262.5L468.6,259.9L469.3,260.2L469.2,261.7L470.6,264.0L469.1,264.1L468.4,262.8L466.3,262.5Z" fill="#fdbb84" stroke="#5a3a30" stroke-opacity="0.75" stroke-width="0.4"/>
<path d="M440.5,261.9L443.0,262.3L444.4,260.6L446.0,260.2L447.0,258.9L444.5,256.3L449.2,254.6L451.9,255.1L455.9,257.3L462.2,262.3L466.3,262.5L468.4,262.8L469.1,264.1L470.6,264.0L472.0,266.4L474.0,268.3L475.2,268.8L475.3,270.8L477.0,273.9L478.0,274.3L479.0,275.2L481.5,278.6L487.3,279.4L488.6,281.1L487.6,286.3L481.0,288.9L474.5,289.9L472.5,291.1L470.0,294.3L466.3,293.2L463.6,293.1L461.7,292.8L461.2,294.9L460.5,295.7L459.2,293.1L456.5,289.9L455.3,286.8L451.4,282.4L449.6,276.9L446.7,273.5L444.9,270.6L442.4,267.1L440.0,265.1L440.5,261.9Z" fill="#fdd49e" stroke="#5a3a30" stroke-opacity="0.75" stroke-width="0.4"/>
<path d="M460.5,295.7L461.2,294.9L461.7,292.8L463.6,293.1L466.3,293.2L470.0,294.3L472.5,291.1L474.5,289.9L481.0,288.9L483.9,295.0L482.1,297.8L479.4,299.0L476.0,300.1L474.3,301.8L470.5,303.3L466.0,305.1L462.6,305.5L461.8,303.8L461.0,299.9L460.5,295.7Z" fill="#fc8d59" stroke="#5a3a30" stroke-opacity="0.75" stroke-width="0.4"/>
<path d="M483.9,295.0L481.0,288.9L487.6,286.3L488.6,281.1L487.4,279.2L488.4,275.2L488.9,273.9L489.6,273.4L490.1,274.5L491.6,276.0L494.9,276.9L497.8,279.8L497.2,282.6L495.8,285.0L493.9,289.0L491.6,291.2L488.8,293.1L486.2,294.1L483.9,295.0ZM488.6,270.5L489.1,269.7L489.6,271.7L488.6,270.5Z" fill="#fee8c8" stroke="#5a3a30" stroke-opacity="0.75" stroke-width="0.4"/>
<path d="M479.0,275.2L481.2,275.3L484.4,275.5L485.4,274.5L487.0,272.5L488.4,270.5L489.4,271.7L489.6,273.4L488.9,273.9L488.4,275.2L487.4,279.2L487.3,279.4L481.5,278.6L479.0,275.2Z" fill="#fee8c8" stroke="#5a3a30" stroke-opacity="0.75" stroke-width="0.4"/>
<path d="M477.0,273.9L476.7,271.9L477.6,270.2L478.6,271.1L478.8,273.2L478.0,274.3L477.0,273.9Z" fill="#fdd49e" stroke="#5a3a30" stroke-opacity="0.75" stroke-width="0.4"/>
<path d="M440.5,261.9L440.6,261.4L440.8,259.7L441.2,257.3L441.2,255.6L441.1,253.9L441.4,253.0L443.9,254.2L447.9,251.3L449.2,254.6L444.5,256.3L447.0,258.9L446.0,260.2L444.4,260.6L443.0,262.3L440.5,261.9Z" fill="#b30000" stroke="#5a3a30" stroke-opacity="0.75" stroke-width="0.4"/>
<path d="M438.5,257.1L440.4,261.5L440.8,259.7L441.2,257.3L441.2,255.6L441.1,253.9L441.4,253.0L441.3,251.6L439.9,252.1L439.6,252.9L439.4,254.8L439.0,256.1L438.5,257.1Z" fill="#fc8d59" stroke="#5a3a30" stroke-opacity="0.75" stroke-width="0.4"/>
<path d="M439.9,252.1L441.3,251.6L442.8,249.2L442.4,248.2L441.3,248.0L439.9,252.1Z" fill="#d7301f" stroke="#5a3a30" stroke-opacity="0.75" stroke-width="0.4"/>
<path d="M441.3,248.0L442.4,248.2L442.8,249.2L441.3,251.6L441.4,253.0L443.9,254.2L447.9,251.3L452.3,248.7L452.3,243.5L454.2,241.7L451.3,241.7L446.5,242.7L442.9,242.8L442.4,243.9L441.3,244.9L440.7,245.8L441.3,248.0Z" fill="url(#hatch)" stroke="#c8c8c8" stroke-width="0.5"/>
<path d="M418.1,232.2L418.7,231.7L419.1,230.6L418.5,229.7L420.0,228.7L421.9,228.9L424.4,230.9L429.1,231.1L433.0,228.9L436.6,228.8L439.9,230.9L444.0,231.7L448.0,231.5L450.6,230.2L452.8,230.1L454.9,231.3L455.8,233.9L458.4,234.9L456.9,235.7L457.9,238.3L459.5,241.5L454.2,241.7L451.3,241.7L446.5,242.7L442.9,242.8L442.4,243.9L441.3,244.9L441.1,242.2L439.5,243.1L437.7,242.6L435.7,244.1L434.0,244.5L432.1,243.1L429.0,242.3L428.7,243.9L425.8,242.7L423.9,242.8L422.1,242.7L421.8,241.7L421.4,239.6L419.4,238.5L420.6,238.1L420.2,236.7L418.6,235.4L418.7,234.1L420.9,233.1L424.5,233.1L424.1,231.5L420.9,231.7L418.7,233.9L418.1,232.2Z" fill="#d7301f" stroke="#5a3a30" stroke-opacity="0.75" stroke-width="0.4"/>
<path d="M446.5,225.3L451.8,225.8L454.8,227.4L457.0,227.0L458.8,227.7L460.7,229.3L461.6,230.8L460.6,231.1L458.0,230.8L454.9,231.3L452.8,230.1L450.6,230.2L450.1,227.9L446.5,225.3Z" fill="#d7301f" stroke="#5a3a30" stroke-opacity="0.75" stroke-width="0.4"/>
<path d="M454.9,231.3L458.0,230.8L459.5,232.0L460.7,233.6L462.1,235.4L462.4,237.0L461.6,237.1L460.6,235.7L458.7,234.6L458.4,234.9L455.8,233.9L454.9,231.3Z" fill="#fc8d59" stroke="#5a3a30" stroke-opacity="0.75" stroke-width="0.4"/>
<path d="M458.0,230.8L460.6,231.1L461.6,230.8L460.7,229.3L464.0,231.0L465.3,229.3L467.0,231.3L469.9,233.1L468.1,233.9L468.1,235.9L467.7,238.1L465.6,237.2L466.0,235.7L464.8,235.0L462.4,237.0L462.1,235.4L460.7,233.6L459.5,232.0L458.0,230.8ZM458.4,234.9L458.7,234.6L460.6,235.7L461.6,237.1L460.0,236.7L458.4,234.9Z" fill="#fdbb84" stroke="#5a3a30" stroke-opacity="0.75" stroke-width="0.4"/>
<path d="M358.3,246.7L359.1,248.4L359.2,249.9L360.0,252.7L360.5,253.3L360.1,254.3L357.2,254.7L356.2,255.7L355.0,255.9L354.9,257.8L352.3,258.9L351.4,260.2L349.6,260.9L347.4,261.3L343.7,263.2L343.7,266.3L333.6,266.3L334.9,265.3L337.0,265.0L338.8,263.2L339.9,262.5L341.8,260.4L341.3,257.1L342.2,254.9L342.6,253.5L344.0,251.7L346.3,250.5L347.9,249.5L349.4,246.7L350.1,245.2L351.8,245.2L353.0,246.3L355.1,246.1L357.4,246.7L358.3,246.7Z" fill="#fdd49e" stroke="#5a3a30" stroke-opacity="0.75" stroke-width="0.4"/>
<path d="M343.7,266.3L343.6,267.0L343.5,270.9L336.2,270.8L336.1,277.5L334.0,277.7L333.4,279.1L333.8,282.8L324.9,282.8L324.4,283.7L324.5,282.6L326.3,278.7L327.2,276.5L329.5,274.0L330.6,270.2L332.6,268.8L333.6,266.3L343.7,266.3Z" fill="url(#hatch)" stroke="#c8c8c8" stroke-width="0.5"/>
<path d="M390.0,277.2L382.4,282.2L375.9,287.3L372.7,288.5L370.2,288.7L370.1,287.1L369.1,286.7L367.7,285.9L367.1,284.7L359.5,279.0L352.0,273.3L343.6,267.0L343.7,266.3L343.7,263.2L347.4,261.3L349.6,260.9L351.4,260.2L352.3,258.9L354.9,257.8L355.0,255.9L356.2,255.7L357.2,254.7L360.1,254.3L360.5,253.3L360.0,252.7L359.2,249.9L359.1,248.4L358.3,246.7L360.4,245.3L362.7,244.8L364.1,243.7L366.2,242.9L369.8,242.5L373.4,242.3L374.5,242.7L376.5,241.6L378.8,241.6L379.7,242.2L381.2,242.1L380.8,243.4L381.2,245.9L380.7,248.0L379.4,249.5L379.7,251.5L381.5,253.0L381.5,253.6L382.9,254.7L384.0,259.4L384.8,261.7L384.9,262.9L384.5,265.0L384.8,266.2L384.5,267.6L384.7,269.3L383.9,270.4L385.2,272.3L385.3,273.4L386.1,274.9L387.2,274.4L389.0,275.6L390.0,277.2Z" fill="#fc8d59" stroke="#5a3a30" stroke-opacity="0.75" stroke-width="0.4"/>
<path d="M384.0,259.4L382.9,254.7L381.5,253.6L381.5,253.0L379.7,251.5L379.4,249.5L380.7,248.0L381.2,245.9L380.8,243.4L381.2,242.1L383.5,241.0L385.0,241.3L385.0,242.7L386.8,241.7L386.9,242.2L385.9,243.5L385.9,244.7L386.7,245.3L386.5,247.6L385.1,248.9L385.6,250.3L386.7,250.3L387.3,251.6L388.2,252.0L388.1,254.0L387.1,254.8L386.4,255.6L384.9,256.6L385.2,257.7L385.0,258.8L384.0,259.4Z" fill="#fc8d59" stroke="#5a3a30" stroke-opacity="0.75" stroke-width="0.4"/>
<path d="M419.4,281.1L419.6,286.3L417.0,286.3L417.0,287.4L407.8,282.4L398.7,277.4L396.5,278.8L394.9,279.8L393.6,278.4L390.0,277.2L389.0,275.6L387.2,274.4L386.1,274.9L385.3,273.4L385.2,272.3L383.9,270.4L384.7,269.3L384.5,267.6L384.8,266.2L384.5,265.0L384.9,262.9L384.8,261.7L384.0,259.4L385.0,258.8L385.2,257.7L384.9,256.6L386.4,255.6L387.1,254.8L388.1,254.0L388.2,252.0L390.8,252.9L391.7,252.7L393.5,253.1L396.5,254.3L397.6,256.6L399.6,257.1L402.8,258.2L405.2,259.5L406.2,258.8L407.2,257.6L406.6,255.6L407.2,254.3L408.7,253.1L410.2,252.8L413.2,253.3L414.1,254.5L414.9,254.5L415.6,254.9L417.8,255.2L418.4,256.1L417.7,257.3L418.1,258.5L417.7,260.1L418.5,262.2L419.4,281.1Z" fill="url(#hatch)" stroke="#c8c8c8" stroke-width="0.5"/>
<path d="M417.7,260.1L418.1,258.5L417.7,257.3L418.4,256.1L421.4,256.0L423.5,256.7L425.8,257.5L426.8,257.9L428.4,257.1L429.3,256.3L431.2,256.1L432.8,256.5L433.5,257.8L434.0,256.9L435.8,257.5L437.5,257.7L438.6,257.0L440.4,261.5L439.9,262.5L439.6,264.5L439.1,265.9L438.6,266.3L437.8,265.5L436.7,264.3L434.8,260.6L434.6,260.8L435.7,263.6L437.3,266.2L439.3,270.3L440.2,271.7L441.1,273.2L443.3,276.0L442.8,276.5L443.0,278.2L445.8,280.5L446.2,281.1L419.4,281.1L418.5,262.2L417.7,260.1Z" fill="#fc8d59" stroke="#5a3a30" stroke-opacity="0.75" stroke-width="0.4"/>
<path d="M419.4,281.1L419.6,286.3L417.0,286.3L417.0,287.4L417.5,297.7L415.5,297.6L414.5,299.5L414.0,301.1L414.4,301.7L413.7,302.5L414.0,303.6L413.4,304.7L413.2,305.6L414.0,305.5L414.5,306.5L414.6,308.0L415.5,308.8L415.4,309.4L415.7,310.5L417.1,312.2L417.1,313.2L416.7,314.3L416.9,315.1L417.7,315.9L418.6,315.8L419.5,317.0L419.9,312.9L420.5,311.7L422.2,311.3L422.6,312.0L423.8,313.6L424.4,313.8L425.2,313.3L426.9,313.4L427.2,314.0L429.5,314.0L429.6,313.4L430.7,312.9L431.0,312.2L431.8,311.6L433.8,313.2L435.0,312.9L436.1,311.0L437.3,309.6L437.0,308.0L436.5,307.3L437.8,307.1L438.0,306.5L439.0,306.7L438.9,308.6L439.2,310.5L440.4,311.5L440.7,312.4L440.7,313.8L441.0,313.8L441.0,313.5L441.6,310.7L442.7,310.0L442.9,308.9L443.8,307.0L445.1,305.7L446.0,303.1L446.2,300.9L445.9,299.8L446.7,296.0L446.9,294.2L447.6,293.4L449.2,293.0L450.3,291.5L449.1,289.9L448.1,289.9L447.1,286.8L446.6,284.1L447.1,283.6L446.2,281.1L419.4,281.1Z" fill="url(#hatch)" stroke="#c8c8c8" stroke-width="0.5"/>
<path d="M418.6,315.8L419.5,317.0L420.7,318.1L420.8,318.9L422.3,320.3L423.3,321.4L423.9,323.0L425.6,324.0L426.0,324.8L427.5,327.0L428.5,327.3L429.1,326.9L430.2,327.0L431.5,326.5L432.0,327.6L434.0,329.3L435.0,328.6L436.5,329.2L438.3,328.6L439.9,328.6L441.3,327.4L442.7,325.8L444.3,324.1L442.9,321.3L441.8,320.7L441.4,319.6L440.2,318.4L438.8,318.2L439.5,316.7L440.7,316.6L441.1,315.8L441.0,313.8L440.7,313.8L440.7,312.4L440.4,311.5L439.2,310.5L438.9,308.6L439.0,306.7L438.0,306.5L437.8,307.1L436.5,307.3L437.0,308.0L437.3,309.6L436.1,311.0L435.0,312.9L433.8,313.2L431.8,311.6L431.0,312.2L430.7,312.9L429.6,313.4L429.5,314.0L427.2,314.0L426.9,313.4L425.2,313.3L424.4,313.8L423.8,313.6L422.6,312.0L422.2,311.3L420.5,311.7L419.9,312.9L419.5,317.0L418.6,315.8Z" fill="url(#hatch)" stroke="#c8c8c8" stroke-width="0.5"/>
<path d="M335.2,300.3L333.7,298.6L332.4,296.6L330.9,295.9L329.8,295.2L328.5,295.2L327.4,295.8L326.3,295.5L325.5,296.4L325.3,295.0L326.0,293.7L326.3,291.2L326.1,288.6L325.9,287.4L326.1,286.1L325.6,284.8L324.4,283.7L324.9,282.8L333.8,282.8L333.4,279.1L334.0,277.7L336.1,277.5L336.2,270.8L343.5,270.9L343.6,267.0L352.0,273.3L348.5,273.3L349.5,284.6L350.5,295.9L350.9,296.2L350.4,298.0L341.2,298.1L340.9,298.7L340.0,298.5L338.7,299.0L337.1,298.3L336.4,298.3L336.0,299.9L335.2,300.3Z" fill="#fee8c8" stroke="#5a3a30" stroke-opacity="0.75" stroke-width="0.4"/>
<path d="M335.2,300.3L336.0,299.9L336.4,298.3L337.1,298.3L338.7,299.0L340.0,298.5L340.9,298.7L341.2,298.1L350.4,298.0L350.9,296.2L350.5,295.9L349.5,284.6L348.5,273.3L352.0,273.3L359.5,279.0L367.1,284.7L367.7,285.9L369.1,286.7L370.1,287.1L370.2,288.7L372.7,288.5L372.7,294.5L371.5,296.3L371.3,297.9L369.3,298.3L366.2,298.5L365.3,299.4L363.8,299.5L362.4,299.6L361.8,299.0L360.6,299.4L358.4,300.5L358.0,301.3L356.2,302.5L355.9,303.2L354.9,303.7L353.8,303.3L353.2,304.0L352.9,305.8L351.0,307.9L351.1,308.8L350.5,309.9L350.6,311.4L349.6,311.8L349.1,312.1L348.8,311.0L348.1,311.3L347.7,311.3L347.3,312.0L345.5,312.0L344.9,311.6L344.6,311.8L343.9,311.1L344.0,310.3L343.7,310.0L343.2,310.3L343.3,309.4L343.8,308.8L342.9,307.7L342.6,306.9L342.1,306.4L341.6,306.3L341.1,306.7L340.3,307.0L339.7,307.6L338.7,307.4L338.1,306.7L337.7,306.6L337.1,307.0L336.7,307.0L336.6,306.0L336.7,305.2L336.6,304.2L335.7,303.5L335.3,302.0L335.2,300.3Z" fill="#fee8c8" stroke="#5a3a30" stroke-opacity="0.75" stroke-width="0.4"/>
<path d="M363.8,299.5L365.3,299.4L366.2,298.5L369.3,298.3L371.3,297.9L371.5,296.3L372.7,294.5L372.7,288.5L375.9,287.3L382.4,282.2L390.0,277.2L393.6,278.4L394.9,279.8L396.5,278.8L397.1,282.9L398.0,283.5L398.0,284.4L399.0,285.3L398.5,286.4L397.8,291.7L397.7,295.1L394.9,297.6L393.9,301.0L394.9,302.0L394.9,303.6L396.4,303.7L396.2,304.9L395.5,305.1L395.5,305.9L395.1,306.0L393.5,303.1L392.9,303.0L391.1,304.5L389.4,303.7L388.1,303.5L387.5,303.9L386.1,303.8L384.8,305.0L383.6,305.0L380.8,303.7L379.8,304.3L378.6,304.2L377.8,303.3L375.4,302.3L373.0,302.6L372.4,303.2L372.1,304.7L371.4,305.7L371.3,308.1L369.5,306.5L368.7,306.6L367.9,307.3L368.0,305.5L365.3,305.0L365.3,303.7L364.0,302.0L363.7,300.8L363.8,299.5Z" fill="#fee8c8" stroke="#5a3a30" stroke-opacity="0.75" stroke-width="0.4"/>
<path d="M417.0,287.4L417.5,297.7L415.5,297.6L414.5,299.5L414.0,301.1L414.4,301.7L413.7,302.5L414.0,303.6L413.4,304.7L413.2,305.6L414.0,305.5L414.5,306.5L414.6,308.0L415.5,308.8L415.4,309.4L414.0,309.9L412.8,310.9L411.2,313.8L409.1,315.0L406.9,314.8L406.2,315.1L406.5,316.0L405.3,316.9L404.3,317.9L401.4,318.9L400.8,318.3L400.5,318.3L400.0,318.9L398.1,319.1L398.5,318.4L397.7,316.6L397.4,315.5L396.4,315.1L395.0,313.6L395.5,312.3L396.6,312.6L397.2,312.4L398.5,312.4L397.2,310.1L397.3,308.3L397.1,306.6L396.2,304.9L396.4,303.7L394.9,303.6L394.9,302.0L393.9,301.0L394.9,297.6L397.7,295.1L397.8,291.7L398.5,286.4L399.0,285.3L398.0,284.4L398.0,283.5L397.1,282.9L396.5,278.8L398.7,277.4L407.8,282.4L417.0,287.4Z" fill="#fee8c8" stroke="#5a3a30" stroke-opacity="0.75" stroke-width="0.4"/>
<path d="M324.8,303.0L323.9,301.0L322.7,300.0L323.8,299.6L324.9,297.7L325.5,296.4L326.3,295.5L327.4,295.8L328.5,295.2L329.8,295.2L330.9,295.9L332.4,296.6L333.7,298.6L335.2,300.3L335.3,302.0L335.7,303.5L336.6,304.2L336.7,305.2L336.6,306.0L336.3,306.2L335.1,305.9L334.9,306.3L334.4,306.3L332.7,305.7L331.6,305.6L327.4,305.5L326.8,305.8L326.0,305.7L324.8,306.2L324.5,304.2L326.5,304.2L327.1,303.9L327.5,303.8L328.4,303.2L329.3,303.8L330.3,303.8L331.3,303.2L330.9,302.5L330.1,302.9L329.4,302.9L328.5,302.3L327.8,302.3L327.3,302.9L324.8,303.0Z" fill="#fee8c8" stroke="#5a3a30" stroke-opacity="0.75" stroke-width="0.4"/>
<path d="M324.5,304.2L326.5,304.2L327.1,303.9L327.5,303.8L328.4,303.2L329.3,303.8L330.3,303.8L331.3,303.2L330.9,302.5L330.1,302.9L329.4,302.9L328.5,302.3L327.8,302.3L327.3,302.9L324.8,303.0L324.5,304.2Z" fill="#fdd49e" stroke="#5a3a30" stroke-opacity="0.75" stroke-width="0.4"/>
<path d="M328.3,309.7L327.1,308.6L326.1,308.4L325.6,307.7L325.6,307.3L325.0,306.7L324.8,306.2L326.0,305.7L326.8,305.8L327.4,305.5L331.6,305.6L331.6,306.5L331.3,306.8L331.5,307.7L331.1,308.0L330.6,308.0L330.0,308.5L329.3,308.4L328.3,309.7Z" fill="url(#hatch)" stroke="#c8c8c8" stroke-width="0.5"/>
<path d="M343.6,318.4L343.0,318.4L342.5,319.4L341.8,319.4L341.4,318.8L341.5,317.8L340.6,316.2L340.0,316.5L339.5,316.5L338.8,316.7L338.9,315.7L338.5,315.1L338.6,314.3L338.1,313.2L337.5,312.3L335.6,312.3L335.1,312.8L334.5,312.8L334.1,313.4L333.8,314.1L332.6,315.3L331.6,313.7L330.7,312.7L330.1,312.3L329.5,311.8L329.3,310.7L329.0,310.1L328.3,309.7L329.3,308.4L330.0,308.5L330.6,308.0L331.1,308.0L331.5,307.7L331.3,306.8L331.6,306.5L331.6,305.6L332.7,305.7L334.4,306.3L334.9,306.3L335.1,305.9L336.3,306.2L336.6,306.0L336.7,307.0L337.1,307.0L337.7,306.6L338.1,306.7L338.7,307.4L339.7,307.6L340.3,307.0L341.1,306.7L341.6,306.3L342.1,306.4L342.6,306.9L342.9,307.7L343.8,308.8L343.3,309.4L343.2,310.3L343.7,310.0L344.0,310.3L343.9,311.1L344.6,311.8L344.1,312.1L343.9,312.9L344.4,314.0L345.0,316.1L344.2,316.4L343.9,316.8L344.1,317.3L344.0,318.4L343.6,318.4Z" fill="url(#hatch)" stroke="#c8c8c8" stroke-width="0.5"/>
<path d="M336.7,320.8L336.1,320.6L334.4,319.5L333.2,318.1L332.8,317.2L332.6,315.3L333.8,314.1L334.1,313.4L334.5,312.8L335.1,312.8L335.6,312.3L337.5,312.3L338.1,313.2L338.6,314.3L338.5,315.1L338.9,315.7L338.8,316.7L339.5,316.5L338.4,317.8L337.4,319.2L337.2,319.9L336.7,320.8Z" fill="#fdd49e" stroke="#5a3a30" stroke-opacity="0.75" stroke-width="0.4"/>
<path d="M345.2,327.1L344.6,327.1L342.3,325.9L340.2,323.9L338.2,322.5L336.7,320.8L337.2,319.9L337.4,319.2L338.4,317.8L339.5,316.5L340.0,316.5L340.6,316.2L341.5,317.8L341.4,318.8L341.8,319.4L342.5,319.4L343.0,318.4L343.6,318.4L343.5,319.2L343.7,320.5L343.2,321.6L343.9,322.3L344.6,322.5L345.6,323.6L345.6,324.6L345.4,325.0L345.2,327.1Z" fill="#fee8c8" stroke="#5a3a30" stroke-opacity="0.75" stroke-width="0.4"/>
<path d="M356.4,325.5L355.4,325.5L353.8,325.0L352.3,325.0L349.6,325.5L348.0,326.2L345.7,327.2L345.2,327.1L345.4,325.0L345.6,324.6L345.6,323.6L344.6,322.5L343.9,322.3L343.2,321.6L343.7,320.5L343.5,319.2L343.6,318.4L344.0,318.4L344.1,317.3L343.9,316.8L344.2,316.4L345.0,316.1L344.4,314.0L343.9,312.9L344.1,312.1L344.6,311.8L344.9,311.6L345.5,312.0L347.3,312.0L347.7,311.3L348.1,311.3L348.8,311.0L349.1,312.1L349.6,311.8L350.6,311.4L351.6,312.0L352.0,312.9L353.1,313.4L353.9,312.8L354.9,312.7L356.5,313.3L357.1,317.0L356.1,319.2L355.5,322.2L356.5,324.4L356.4,325.5Z" fill="#fee8c8" stroke="#5a3a30" stroke-opacity="0.75" stroke-width="0.4"/>
<path d="M356.5,313.3L354.9,312.7L353.9,312.8L353.1,313.4L352.0,312.9L351.6,312.0L350.6,311.4L350.5,309.9L351.1,308.8L351.0,307.9L352.9,305.8L353.2,304.0L353.8,303.3L354.9,303.7L355.9,303.2L356.2,302.5L358.0,301.3L358.4,300.5L360.6,299.4L361.8,299.0L362.4,299.6L363.8,299.5L363.7,300.8L364.0,302.0L365.3,303.7L365.3,305.0L368.0,305.5L367.9,307.3L367.4,308.1L366.3,308.3L365.8,309.5L365.1,309.8L363.0,309.7L362.0,309.5L361.3,309.9L360.2,309.8L356.3,309.9L356.2,311.4L356.5,313.3Z" fill="#fdd49e" stroke="#5a3a30" stroke-opacity="0.75" stroke-width="0.4"/>
<path d="M365.4,323.0L361.8,324.6L360.6,325.4L358.5,326.2L356.4,325.5L356.5,324.4L355.5,322.2L356.1,319.2L357.1,317.0L356.5,313.3L356.2,311.4L356.3,309.9L360.2,309.8L361.3,309.9L362.0,309.5L363.0,309.7L362.9,310.5L363.8,311.9L363.8,313.8L364.1,315.8L364.6,316.8L364.1,319.2L364.3,320.5L364.9,322.1L365.4,323.0Z" fill="#fff7ec" stroke="#5a3a30" stroke-opacity="0.75" stroke-width="0.4"/>
<path d="M367.3,322.5L365.4,323.0L364.9,322.1L364.3,320.5L364.1,319.2L364.6,316.8L364.1,315.8L363.8,313.8L363.8,311.9L362.9,310.5L363.0,309.7L365.1,309.8L364.8,311.2L365.5,311.9L366.3,312.8L366.4,314.1L366.8,314.7L366.7,320.7L367.3,322.5Z" fill="#fee8c8" stroke="#5a3a30" stroke-opacity="0.75" stroke-width="0.4"/>
<path d="M369.2,322.2L367.3,322.5L366.7,320.7L366.8,314.7L366.4,314.1L366.3,312.8L365.5,311.9L364.8,311.2L365.1,309.8L365.8,309.5L366.3,308.3L367.4,308.1L367.9,307.3L368.7,306.6L369.5,306.5L371.3,308.1L371.2,308.9L371.7,310.5L371.3,311.5L371.5,312.2L370.4,313.9L369.7,314.6L369.3,316.3L369.3,318.0L369.2,322.2Z" fill="#fee8c8" stroke="#5a3a30" stroke-opacity="0.75" stroke-width="0.4"/>
<path d="M382.6,326.0L380.2,327.0L379.3,326.9L378.4,327.4L376.6,327.4L375.3,325.7L374.6,323.9L373.0,322.1L371.2,322.2L369.2,322.2L369.3,318.0L369.3,316.3L369.7,314.6L370.4,313.9L371.5,312.2L371.3,311.5L371.7,310.5L371.2,308.9L371.3,308.1L371.4,305.7L372.1,304.7L372.4,303.2L373.0,302.6L375.4,302.3L377.8,303.3L378.6,304.2L379.8,304.3L380.8,303.7L383.6,305.0L384.8,305.0L386.1,303.8L387.5,303.9L388.1,303.5L389.4,303.7L391.1,304.5L392.9,303.0L393.5,303.1L395.1,306.0L395.5,305.9L396.4,306.9L396.2,307.4L396.1,308.3L394.1,310.3L393.5,312.0L393.2,313.3L392.8,313.9L392.3,315.7L391.1,316.8L390.7,318.1L390.2,319.2L390.0,320.3L388.4,321.2L387.2,320.1L386.3,320.1L384.9,321.7L384.2,321.7L383.2,324.2L382.6,326.0Z" fill="#fff7ec" stroke="#5a3a30" stroke-opacity="0.75" stroke-width="0.4"/>
<path d="M393.2,332.6L392.9,332.4L391.5,332.8L390.1,332.4L389.0,332.6L385.2,332.5L385.6,330.5L384.7,328.8L383.6,328.3L383.1,327.1L382.6,326.8L382.6,326.0L383.2,324.2L384.2,321.7L384.9,321.7L386.3,320.1L387.2,320.1L388.4,321.2L390.0,320.3L390.2,319.2L390.7,318.1L391.1,316.8L392.3,315.7L392.8,313.9L393.2,313.3L393.5,312.0L394.1,310.3L396.1,308.3L396.2,307.4L396.4,306.9L395.5,305.9L395.5,305.1L396.2,304.9L397.1,306.6L397.3,308.3L397.2,310.1L398.5,312.4L397.2,312.4L396.6,312.6L395.5,312.3L395.0,313.6L396.4,315.1L397.4,315.5L397.7,316.6L398.5,318.4L398.1,319.1L397.0,321.8L396.5,322.2L396.3,324.3L396.5,325.4L396.3,326.2L397.4,327.5L397.7,328.4L398.5,329.8L399.6,330.6L399.7,331.8L399.9,332.6L399.8,334.0L397.9,333.4L396.1,332.7L393.2,332.6Z" fill="#fee8c8" stroke="#5a3a30" stroke-opacity="0.75" stroke-width="0.4"/>
<path d="M398.1,319.1L400.0,318.9L400.5,318.3L400.8,318.3L401.4,318.9L404.3,317.9L405.3,316.9L406.5,316.0L406.2,315.1L406.9,314.8L409.1,315.0L411.2,313.8L412.8,310.9L414.0,309.9L415.4,309.4L415.7,310.5L417.1,312.2L417.1,313.2L416.7,314.3L416.9,315.1L417.7,315.9L419.5,317.0L420.7,318.1L420.8,318.9L422.3,320.3L423.3,321.4L423.9,323.0L425.6,324.0L426.0,324.8L425.3,325.1L423.8,325.1L422.1,324.8L421.2,325.0L420.9,325.6L420.1,325.7L419.2,325.2L416.7,326.5L415.6,326.2L415.3,326.4L414.6,328.0L412.9,327.5L411.2,327.2L409.7,326.3L407.8,325.4L406.6,326.2L405.7,327.5L405.5,329.4L404.0,329.2L402.5,328.8L401.1,330.1L399.9,332.6L399.7,331.8L399.6,330.6L398.5,329.8L397.7,328.4L397.4,327.5L396.3,326.2L396.5,325.4L396.3,324.3L396.5,322.2L397.0,321.8L398.1,319.1Z" fill="url(#hatch)" stroke="#c8c8c8" stroke-width="0.5"/>
<path d="M384.9,335.9L384.5,335.5L385.2,332.5L389.0,332.6L389.0,335.7L385.7,335.7L384.9,335.9ZM382.5,328.8L383.5,328.7L383.1,330.0L382.5,328.8Z" fill="url(#hatch)" stroke="#c8c8c8" stroke-width="0.5"/>
<path d="M388.6,348.9L386.2,346.3L384.7,344.1L383.3,341.4L383.4,340.5L383.9,339.7L384.4,337.8L384.9,335.9L385.7,335.7L389.0,335.7L389.0,332.6L390.1,332.4L391.5,332.8L392.9,332.4L393.2,332.6L393.0,333.7L393.6,335.1L395.3,334.8L395.9,335.4L394.9,338.4L396.0,339.9L396.3,342.0L396.0,343.7L395.2,344.9L393.2,344.8L392.0,343.6L391.8,344.7L390.2,345.1L389.5,345.7L390.3,347.5L388.6,348.9Z" fill="url(#hatch)" stroke="#c8c8c8" stroke-width="0.5"/>
<path d="M392.9,351.0L392.1,350.1L391.4,350.5L390.4,351.7L388.6,348.9L390.3,347.5L389.5,345.7L390.2,345.1L391.8,344.7L392.0,343.6L393.2,344.8L395.2,344.9L396.0,343.7L396.3,342.0L396.0,339.9L394.9,338.4L395.9,335.4L395.3,334.8L393.6,335.1L393.0,333.7L393.2,332.6L396.1,332.7L397.9,333.4L399.8,334.0L399.9,332.6L401.1,330.1L402.5,328.8L404.0,329.2L405.5,329.4L405.4,330.9L404.7,332.3L404.3,334.0L404.0,336.3L404.1,337.7L403.7,338.7L403.7,339.6L403.4,340.4L401.9,341.7L400.8,343.0L399.8,345.6L399.9,347.7L399.3,348.6L397.9,349.8L396.6,351.5L395.7,351.0L395.6,350.3L394.3,350.2L393.5,351.2L392.9,351.0Z" fill="#fdbb84" stroke="#5a3a30" stroke-opacity="0.75" stroke-width="0.4"/>
<path d="M434.0,329.3L433.9,332.4L434.9,332.8L434.1,333.7L433.3,334.4L432.4,335.7L431.9,336.9L431.8,339.0L431.2,340.0L431.2,342.0L430.5,342.7L430.4,344.3L430.1,344.5L429.9,345.9L430.5,347.1L430.6,350.2L431.0,352.6L430.7,354.0L431.2,355.5L432.5,357.0L433.6,360.3L432.8,360.0L429.6,360.5L429.0,360.8L428.3,362.4L428.8,363.6L428.4,366.7L428.0,369.3L428.6,369.7L430.2,370.8L430.8,370.3L430.9,373.1L429.2,373.1L428.3,371.7L427.5,370.5L425.7,370.2L425.2,368.8L423.8,369.6L422.0,369.3L421.3,368.1L419.8,367.8L418.7,367.9L418.6,367.1L417.8,367.0L416.8,366.9L415.4,367.3L414.4,367.2L413.8,367.4L414.0,364.3L413.2,363.4L413.1,361.8L413.4,360.2L413.0,359.2L413.0,357.5L410.2,357.6L410.4,356.6L409.2,356.6L409.1,357.1L407.7,357.2L407.1,358.7L406.7,359.4L405.4,359.0L404.7,359.4L403.2,359.6L402.3,358.2L401.8,357.3L401.1,355.8L400.6,353.9L393.8,353.8L393.0,354.1L392.3,354.1L391.4,354.4L391.0,353.6L391.6,353.3L391.7,352.2L392.1,351.5L392.9,351.0L393.5,351.2L394.3,350.2L395.6,350.3L395.7,351.0L396.6,351.5L397.9,349.8L399.3,348.6L399.9,347.7L399.8,345.6L400.8,343.0L401.9,341.7L403.4,340.4L403.7,339.6L403.7,338.7L404.1,337.7L404.0,336.3L404.3,334.0L404.7,332.3L405.4,330.9L405.5,329.4L405.7,327.5L406.6,326.2L407.8,325.4L409.7,326.3L411.2,327.2L412.9,327.5L414.6,328.0L415.3,326.4L415.6,326.2L416.7,326.5L419.2,325.2L420.1,325.7L420.9,325.6L421.2,325.0L422.1,324.8L423.8,325.1L425.3,325.1L426.0,324.8L427.5,327.0L428.5,327.3L429.1,326.9L430.2,327.0L431.5,326.5L432.0,327.6L434.0,329.3Z" fill="#fdd49e" stroke="#5a3a30" stroke-opacity="0.75" stroke-width="0.4"/>
<path d="M400.6,353.9L401.1,355.8L401.8,357.3L402.3,358.2L403.2,359.6L404.7,359.4L405.4,359.0L406.7,359.4L407.1,358.7L407.7,357.2L409.1,357.1L409.2,356.6L410.4,356.6L410.2,357.6L413.0,357.5L413.0,359.2L413.4,360.2L413.1,361.8L413.2,363.4L414.0,364.3L413.8,367.4L414.4,367.2L415.4,367.3L416.8,366.9L417.8,367.0L418.1,367.8L417.8,369.1L418.2,370.3L417.8,371.3L418.0,372.2L413.2,372.2L412.9,380.5L414.4,382.6L415.8,384.2L411.6,385.3L406.1,384.9L404.5,383.7L395.3,383.8L395.0,384.0L393.6,382.8L392.2,382.7L390.8,383.2L389.7,383.7L389.5,382.0L389.9,379.7L390.7,377.3L390.8,376.2L391.6,373.9L392.2,372.8L393.5,371.1L394.2,369.9L394.5,368.0L394.4,366.5L393.7,365.6L393.1,364.0L392.6,362.4L392.7,361.9L393.4,360.8L392.7,358.3L392.3,356.6L391.1,354.9L391.4,354.4L392.3,354.1L393.0,354.1L393.8,353.8L400.6,353.9ZM391.6,353.3L391.0,353.6L390.4,351.7L391.4,350.5L392.1,350.1L392.9,351.0L392.1,351.5L391.7,352.2L391.6,353.3Z" fill="url(#hatch)" stroke="#c8c8c8" stroke-width="0.5"/>
<path d="M449.6,299.4L451.0,300.6L452.3,300.0L452.9,300.6L454.4,300.6L456.5,301.6L457.1,302.6L458.2,303.4L459.2,304.9L460.0,305.8L459.2,306.9L458.5,308.1L458.7,308.8L458.8,309.7L460.0,309.7L460.6,309.5L461.1,310.0L460.6,310.9L461.5,312.3L462.4,313.6L463.3,314.5L470.9,317.6L472.9,317.6L466.5,325.4L463.5,325.6L461.5,327.4L460.1,327.5L459.4,328.3L457.9,328.3L456.9,327.4L454.8,328.5L454.2,329.6L452.6,329.4L452.1,329.0L451.6,329.1L450.8,329.1L447.9,326.9L446.3,326.9L445.5,326.0L445.5,324.6L444.3,324.1L442.9,321.3L441.8,320.7L441.4,319.6L440.2,318.4L438.8,318.2L439.5,316.7L440.7,316.6L441.1,315.8L441.0,313.5L441.6,310.7L442.7,310.0L442.9,308.9L443.8,307.0L445.1,305.7L446.0,303.1L446.2,300.9L448.9,301.4L449.6,299.4Z" fill="#fee8c8" stroke="#5a3a30" stroke-opacity="0.75" stroke-width="0.4"/>
<path d="M460.0,305.8L459.2,304.9L458.2,303.4L457.1,302.6L456.5,301.6L454.4,300.6L452.9,300.6L452.3,300.0L451.0,300.6L449.6,299.4L448.9,301.4L446.2,300.9L445.9,299.8L446.7,296.0L446.9,294.2L447.6,293.4L449.2,293.0L450.3,291.5L451.8,294.5L452.5,296.9L453.8,298.2L457.1,300.7L458.4,302.2L459.7,303.7L460.5,304.6L461.6,305.3L461.0,306.0L460.0,305.8Z" fill="url(#hatch)" stroke="#c8c8c8" stroke-width="0.5"/>
<path d="M461.6,305.3L462.2,306.2L462.2,307.3L460.9,307.9L461.9,308.6L461.1,310.0L460.6,309.5L460.0,309.7L458.8,309.7L458.7,308.8L458.5,308.1L459.2,306.9L460.0,305.8L461.0,306.0L461.6,305.3Z" fill="url(#hatch)" stroke="#c8c8c8" stroke-width="0.5"/>
<path d="M477.0,308.3L478.2,308.0L479.2,307.1L480.1,307.1L480.2,307.8L480.0,309.3L480.1,310.7L479.6,311.7L479.1,314.5L478.1,317.4L476.8,320.7L474.9,324.6L473.0,327.5L470.3,331.0L468.0,333.1L464.6,335.8L462.5,337.7L459.9,340.9L459.4,342.3L458.9,342.9L457.5,340.7L457.5,331.2L459.4,328.3L460.1,327.5L461.5,327.4L463.5,325.6L466.5,325.4L472.9,317.6L470.9,317.6L463.3,314.5L462.4,313.6L461.5,312.3L460.6,310.9L461.1,310.0L461.9,308.6L462.7,309.1L463.2,310.1L464.2,311.2L465.4,311.2L467.5,310.6L470.0,310.3L472.0,309.4L473.1,309.3L473.9,308.8L475.2,308.7L475.9,308.7L477.0,308.3Z" fill="url(#hatch)" stroke="#c8c8c8" stroke-width="0.5"/>
<path d="M457.5,340.7L458.9,342.9L457.2,343.9L456.7,345.0L455.8,345.2L455.5,347.1L454.7,348.1L454.2,349.9L453.3,350.7L450.0,348.1L449.9,346.6L441.6,341.3L441.2,341.0L441.2,338.2L441.8,337.1L442.9,335.4L443.8,333.5L442.7,330.5L442.5,329.2L441.3,327.4L442.7,325.8L444.3,324.1L445.5,324.6L445.5,326.0L446.3,326.9L447.9,326.9L450.8,329.1L451.6,329.1L452.1,329.0L452.6,329.4L454.2,329.6L454.8,328.5L456.9,327.4L457.9,328.3L459.4,328.3L457.5,331.2L457.5,340.7Z" fill="#fdd49e" stroke="#5a3a30" stroke-opacity="0.75" stroke-width="0.4"/>
<path d="M436.5,341.2L434.0,341.1L433.1,341.4L431.8,342.3L431.2,342.0L431.2,340.0L431.8,339.0L431.9,336.9L432.4,335.7L433.3,334.4L434.1,333.7L434.9,332.8L433.9,332.4L434.0,329.3L435.0,328.6L436.5,329.2L438.3,328.6L439.9,328.6L441.3,327.4L442.5,329.2L442.7,330.5L443.8,333.5L442.9,335.4L441.8,337.1L441.2,338.2L441.2,341.0L436.5,341.2Z" fill="#fee8c8" stroke="#5a3a30" stroke-opacity="0.75" stroke-width="0.4"/>
<path d="M433.1,341.4L434.1,342.9L433.9,344.5L433.2,344.8L432.0,344.6L431.3,346.1L429.9,345.9L430.1,344.5L430.4,344.3L430.5,342.7L431.2,342.0L431.8,342.3L433.1,341.4Z" fill="#fdd49e" stroke="#5a3a30" stroke-opacity="0.75" stroke-width="0.4"/>
<path d="M430.6,350.2L430.5,347.1L429.9,345.9L431.3,346.1L432.0,344.6L433.2,344.8L433.4,345.8L433.8,346.4L433.9,347.3L433.3,347.8L432.4,349.2L431.5,350.1L430.6,350.2Z" fill="#fdd49e" stroke="#5a3a30" stroke-opacity="0.75" stroke-width="0.4"/>
<path d="M441.2,341.0L441.6,341.3L449.9,346.6L450.0,348.1L453.3,350.7L452.2,353.9L452.3,355.4L453.7,356.4L453.8,357.0L453.1,358.6L453.2,359.4L453.1,360.7L453.8,362.3L454.7,364.9L455.5,365.4L453.6,367.0L451.1,368.0L449.7,367.9L448.9,368.7L447.3,368.8L446.7,369.1L443.9,368.4L442.2,368.6L441.7,365.0L440.9,363.8L440.5,363.1L438.2,362.6L437.0,361.8L435.5,361.4L434.6,360.9L433.6,360.3L432.5,357.0L431.2,355.5L430.7,354.0L431.0,352.6L430.6,350.2L431.5,350.1L432.4,349.2L433.3,347.8L433.9,347.3L433.8,346.4L433.4,345.8L433.2,344.8L433.9,344.5L434.1,342.9L433.1,341.4L434.0,341.1L436.5,341.2L441.2,341.0Z" fill="#fee8c8" stroke="#5a3a30" stroke-opacity="0.75" stroke-width="0.4"/>
<path d="M415.8,384.2L414.4,382.6L412.9,380.5L413.2,372.2L418.0,372.2L417.8,371.3L418.2,370.3L417.8,369.1L418.1,367.8L417.8,367.0L418.6,367.1L418.7,367.9L419.8,367.8L421.3,368.1L422.0,369.3L423.8,369.6L425.2,368.8L425.7,370.2L427.5,370.5L428.3,371.7L429.2,373.1L430.9,373.1L430.8,370.3L430.2,370.8L428.6,369.7L428.0,369.3L428.4,366.7L428.8,363.6L428.3,362.4L429.0,360.8L429.6,360.5L432.8,360.0L433.6,360.3L434.6,360.9L435.5,361.4L437.0,361.8L438.2,362.6L439.3,363.8L439.8,366.0L439.4,366.7L438.9,368.8L439.3,371.0L438.5,371.9L437.8,374.3L438.9,375.0L431.9,377.1L432.1,379.0L430.3,379.3L429.0,380.4L428.7,381.3L427.9,381.5L425.8,383.6L424.5,385.3L423.7,385.4L423.0,385.1L420.4,384.8L420.0,384.6L420.0,384.4L419.2,383.8L417.7,383.7L415.8,384.2Z" fill="#fdd49e" stroke="#5a3a30" stroke-opacity="0.75" stroke-width="0.4"/>
<path d="M442.2,368.6L441.5,370.6L442.0,374.0L442.8,373.9L443.6,374.8L444.5,376.6L444.6,380.0L443.6,380.6L442.8,382.4L441.4,380.7L441.3,378.9L441.8,377.7L441.7,376.6L440.8,376.0L440.2,376.2L438.9,375.0L437.8,374.3L438.5,371.9L439.3,371.0L438.9,368.8L439.4,366.7L439.8,366.0L439.3,363.8L438.2,362.6L440.5,363.1L440.9,363.8L441.7,365.0L442.2,368.6Z" fill="#fee8c8" stroke="#5a3a30" stroke-opacity="0.75" stroke-width="0.4"/>
<path d="M442.2,368.6L443.9,368.4L446.7,369.1L447.3,368.8L448.9,368.7L449.7,367.9L451.1,368.0L453.6,367.0L455.5,365.4L455.9,366.6L455.7,369.2L455.9,371.5L455.8,375.6L456.1,376.8L455.4,378.7L454.4,380.5L452.8,382.1L450.7,383.1L448.1,384.4L445.4,387.2L444.5,387.7L442.8,389.5L441.8,390.1L441.5,392.0L442.5,394.0L442.8,395.5L442.8,396.3L443.2,396.2L443.0,398.7L442.6,400.0L443.1,400.4L442.7,401.5L441.7,402.4L439.8,403.3L437.0,404.7L436.0,405.7L436.1,406.8L436.6,406.9L436.4,408.3L434.7,408.3L434.6,407.1L434.3,406.0L434.2,405.0L434.7,402.1L434.2,400.3L433.4,396.6L435.9,393.6L436.6,391.8L436.9,391.5L437.3,390.0L436.9,389.2L437.1,387.2L437.7,385.4L437.8,382.1L436.7,381.3L435.6,381.1L435.1,380.5L434.1,379.9L432.2,380.0L432.1,379.0L431.9,377.1L438.9,375.0L440.2,376.2L440.8,376.0L441.7,376.6L441.8,377.7L441.3,378.9L441.4,380.7L442.8,382.4L443.6,380.6L444.6,380.0L444.5,376.6L443.6,374.8L442.8,373.9L442.0,374.0L441.5,370.6L442.2,368.6Z" fill="url(#hatch)" stroke="#c8c8c8" stroke-width="0.5"/>
<path d="M433.4,396.6L432.2,396.3L431.4,396.6L430.3,396.2L429.4,396.2L428.0,395.0L426.3,394.6L425.7,392.9L425.7,392.0L424.8,391.7L422.3,388.9L421.7,387.3L421.2,386.9L420.4,384.8L423.0,385.1L423.7,385.4L424.5,385.3L425.8,383.6L427.9,381.5L428.7,381.3L429.0,380.4L430.3,379.3L432.1,379.0L432.2,380.0L434.1,379.9L435.1,380.5L435.6,381.1L436.7,381.3L437.8,382.1L437.7,385.4L437.1,387.2L436.9,389.2L437.3,390.0L436.9,391.5L436.6,391.8L435.9,393.6L433.4,396.6Z" fill="#fdd49e" stroke="#5a3a30" stroke-opacity="0.75" stroke-width="0.4"/>
<path d="M421.2,386.9L421.7,387.3L422.3,388.9L424.8,391.7L425.7,392.0L425.7,392.9L426.3,394.6L428.0,395.0L429.4,396.2L426.1,398.1L424.0,400.0L423.2,401.8L422.5,402.8L421.2,403.0L420.8,404.2L420.5,405.0L419.1,405.6L417.2,405.5L416.2,404.8L415.3,404.5L414.1,405.1L413.5,406.3L412.5,407.1L411.3,408.3L409.7,408.5L409.2,407.6L409.5,406.0L408.3,403.6L407.7,403.2L407.9,395.5L410.1,395.4L410.5,386.1L412.2,386.1L415.7,385.2L416.6,386.2L418.1,385.2L418.7,385.2L420.0,384.6L420.4,384.8L421.2,386.9Z" fill="#fdbb84" stroke="#5a3a30" stroke-opacity="0.75" stroke-width="0.4"/>
<path d="M399.3,413.1L397.8,411.1L397.0,409.2L396.5,406.7L396.0,404.8L395.4,400.8L395.4,397.7L395.2,396.2L394.3,395.1L393.2,393.0L392.1,389.8L391.6,388.2L389.8,385.7L389.7,383.7L390.8,383.2L392.2,382.7L393.6,382.8L395.0,384.0L395.3,383.8L404.5,383.7L406.1,384.9L411.6,385.3L415.8,384.2L417.7,383.7L419.2,383.8L420.0,384.4L420.0,384.6L418.7,385.2L418.1,385.2L416.6,386.2L415.7,385.2L412.2,386.1L410.5,386.1L410.1,395.4L407.9,395.5L407.7,403.2L407.3,412.8L405.2,414.1L404.0,414.3L402.6,413.8L401.6,413.6L401.3,412.5L400.4,411.8L399.3,413.1Z" fill="#fdd49e" stroke="#5a3a30" stroke-opacity="0.75" stroke-width="0.4"/>
<path d="M432.9,414.9L432.5,415.3L431.4,416.6L430.7,417.9L429.3,419.8L426.6,422.5L424.9,424.0L423.1,425.2L420.8,426.2L419.6,426.4L419.3,427.1L418.0,426.7L416.9,427.2L414.5,426.7L413.2,427.1L412.3,426.9L410.0,427.9L408.1,428.4L406.7,429.3L405.7,429.4L404.8,428.5L404.1,428.4L403.2,427.3L403.1,427.6L402.8,426.9L402.9,425.4L402.3,423.6L403.1,423.2L403.1,421.2L401.8,418.7L400.8,416.5L399.3,413.1L400.4,411.8L401.3,412.5L401.6,413.6L402.6,413.8L404.0,414.3L405.2,414.1L407.3,412.8L407.7,403.2L408.3,403.6L409.5,406.0L409.2,407.6L409.7,408.5L411.3,408.3L412.5,407.1L413.5,406.3L414.1,405.1L415.3,404.5L416.2,404.8L417.2,405.5L419.1,405.6L420.5,405.0L420.8,404.2L421.2,403.0L422.5,402.8L423.2,401.8L424.0,400.0L426.1,398.1L429.4,396.2L430.3,396.2L431.4,396.6L432.2,396.3L433.4,396.6L434.2,400.3L434.7,402.1L434.2,405.0L434.3,406.0L433.2,405.5L432.5,405.7L432.3,406.4L431.6,407.4L431.6,408.3L432.8,409.7L434.1,409.5L434.7,408.3L436.4,408.3L435.7,410.2L435.2,412.4L434.6,413.6L432.9,414.9Z" fill="#fc8d59" stroke="#5a3a30" stroke-opacity="0.75" stroke-width="0.4"/>
<path d="M427.4,414.1L428.1,414.9L427.3,416.1L426.9,417.0L425.6,417.4L425.1,418.3L424.3,418.5L422.8,416.5L424.1,414.8L425.4,413.8L426.4,413.3L427.4,414.1Z" fill="#fc8d59" stroke="#5a3a30" stroke-opacity="0.75" stroke-width="0.4"/>
<path d="M434.7,408.3L434.1,409.5L432.8,409.7L431.6,408.3L431.6,407.4L432.3,406.4L432.5,405.7L433.2,405.5L434.3,406.0L434.6,407.1L434.7,408.3Z" fill="#fee8c8" stroke="#5a3a30" stroke-opacity="0.75" stroke-width="0.4"/>
<path d="M476.4,371.1L477.0,372.2L477.5,373.9L477.7,377.0L478.2,378.3L477.9,379.5L477.4,380.3L476.8,378.7L476.3,379.5L476.6,381.4L476.3,382.6L475.7,383.2L475.4,385.4L474.2,388.4L472.9,392.0L471.1,397.0L470.0,400.6L468.7,403.6L466.8,404.2L464.7,405.3L463.5,404.7L461.8,403.7L461.3,402.4L461.3,400.0L460.7,398.0L460.6,396.1L461.1,394.2L462.2,393.7L462.3,392.9L463.5,390.9L463.8,389.2L463.4,388.0L463.0,386.4L463.0,383.9L463.9,382.5L464.3,380.8L465.4,380.7L466.7,380.2L467.6,379.7L468.6,379.7L470.0,378.2L472.0,376.6L472.7,375.3L472.5,374.2L473.4,374.5L474.8,372.7L474.9,371.1L475.7,369.9L476.4,371.1Z" fill="#ef6548" stroke="#5a3a30" stroke-opacity="0.75" stroke-width="0.4"/>
<path d="M462.1,368.3L462.7,368.3L462.6,369.6L462.1,369.0L462.1,368.3ZM464.3,370.1L465.0,370.3L464.8,370.9L464.3,370.1Z" fill="#ef6548" stroke="#5a3a30" stroke-opacity="0.75" stroke-width="0.4"/>
<path d="M492.9,391.0L493.7,390.7L493.8,391.5L493.1,392.0L492.9,391.0Z" fill="#ef6548" stroke="#5a3a30" stroke-opacity="0.75" stroke-width="0.4"/>
<path d="M490.5,350.5L490.9,350.4L490.9,351.0L490.5,350.5Z" fill="#fc8d59" stroke="#5a3a30" stroke-opacity="0.75" stroke-width="0.4"/>
<path d="M378.0,337.6L378.6,337.6L378.3,338.4L378.0,337.6Z" fill="#fff7ec" stroke="#5a3a30" stroke-opacity="0.75" stroke-width="0.4"/>
<path d="M308.9,298.6L309.5,298.8L309.3,299.5L308.8,299.3L308.9,298.6ZM305.4,293.9L306.1,293.7L306.0,294.4L305.4,293.9ZM307.3,299.5L307.5,299.9L307.1,299.7L307.3,299.5Z" fill="#fdd49e" stroke="#5a3a30" stroke-opacity="0.75" stroke-width="0.4"/>
<path d="M501.4,466.0L503.5,465.2L505.0,466.2L504.1,467.5L501.8,467.8L501.4,466.0Z" fill="url(#hatch)" stroke="#c8c8c8" stroke-width="0.5"/>
<path d="M691.3,374.4L691.8,376.5L693.4,375.5L694.0,376.6L694.9,377.6L694.4,378.8L694.5,381.0L694.6,382.3L695.2,382.6L695.3,384.9L694.8,386.2L695.2,388.0L697.3,389.4L698.6,390.6L699.9,391.7L699.5,392.4L700.4,394.0L700.6,396.8L701.6,396.2L702.3,397.4L702.9,397.0L702.6,399.7L703.8,401.4L704.6,402.4L705.8,404.5L705.7,406.6L705.3,408.0L704.6,409.7L704.9,411.9L703.9,414.2L703.0,415.4L701.5,417.7L700.9,419.2L699.6,421.1L697.6,423.5L695.3,424.8L693.6,426.8L692.2,428.1L690.4,430.3L688.9,431.6L687.3,433.6L686.1,435.4L685.7,436.2L684.0,437.1L681.5,437.2L678.9,438.3L677.4,439.3L675.4,440.4L674.3,439.2L673.3,438.8L674.3,437.4L672.9,437.9L670.0,439.8L668.5,439.1L667.5,438.7L666.4,438.5L664.7,437.7L664.2,436.1L664.8,434.1L665.5,431.8L664.4,431.8L662.5,431.5L663.8,430.2L664.2,428.3L662.3,430.1L660.1,430.5L661.9,429.1L663.0,427.6L664.4,426.3L665.1,424.4L662.3,426.6L660.5,427.5L658.8,429.6L657.6,428.5L658.2,427.1L657.7,425.2L657.0,424.3L657.6,423.7L655.4,422.1L653.9,422.0L652.3,420.7L648.3,421.0L645.0,421.9L642.2,422.8L640.2,422.6L637.3,423.9L635.2,424.5L634.3,425.9L633.0,427.0L631.1,427.0L629.7,427.3L627.9,426.8L626.3,427.1L624.7,427.2L622.9,428.6L622.3,428.5L620.9,429.2L619.5,430.0L618.0,429.9L616.5,429.9L614.8,428.3L613.9,427.8L614.5,426.3L615.7,425.9L616.3,425.3L616.6,424.4L617.5,422.6L617.7,421.0L617.4,418.4L617.6,416.9L618.1,415.4L617.7,413.7L617.9,413.0L617.1,411.9L617.4,409.8L616.7,407.8L616.6,406.7L617.3,407.8L617.2,405.4L618.1,406.1L618.5,407.2L618.8,405.8L618.2,403.8L618.1,402.9L617.7,402.1L618.3,400.7L618.9,400.0L619.4,398.7L619.5,397.2L620.7,395.3L620.6,397.3L621.8,395.5L623.8,394.6L625.1,393.5L627.0,392.5L628.1,392.3L628.6,392.7L630.6,391.7L632.0,391.4L632.5,390.8L633.1,390.6L634.4,390.7L636.9,389.9L638.3,388.7L639.2,387.3L640.7,386.0L641.0,385.0L641.3,383.5L643.3,381.3L643.9,383.6L644.9,383.1L644.3,381.8L645.2,380.6L646.2,381.1L646.7,379.1L648.2,377.9L648.9,376.8L650.1,376.4L650.2,375.6L651.2,376.0L651.3,375.3L652.4,374.9L653.5,374.6L655.0,375.8L656.1,377.3L657.5,377.3L658.9,377.6L658.7,376.1L660.0,374.1L661.2,373.4L660.9,372.7L662.1,371.2L663.6,370.3L664.7,370.6L666.7,370.1L666.8,368.8L665.2,367.9L666.5,367.6L667.9,368.2L669.0,369.3L670.9,369.9L671.6,369.7L672.9,370.5L674.3,369.7L675.2,370.0L675.7,369.5L676.6,370.7L675.9,372.2L674.8,373.2L674.0,373.3L674.2,374.3L673.3,375.6L672.3,376.9L672.3,377.7L673.9,379.1L675.5,379.9L676.6,380.8L677.9,382.4L678.6,382.4L679.6,383.0L679.8,383.8L681.8,384.7L683.5,383.8L684.2,382.4L684.9,381.3L685.4,379.9L686.5,377.8L686.4,376.5L686.7,375.8L686.6,374.3L687.2,372.3L687.7,371.8L687.5,370.9L688.2,369.5L688.8,368.1L689.0,367.3L689.9,366.4L690.4,367.6L690.4,369.3L690.9,369.6L690.9,370.7L691.5,372.0L691.5,373.5L691.3,374.4ZM670.8,444.9L672.2,445.8L673.6,445.5L675.6,445.0L676.7,445.2L674.9,448.2L673.6,449.1L671.9,451.2L671.7,450.5L669.0,452.3L668.7,452.1L667.5,452.1L667.7,449.8L668.5,448.1L668.7,445.9L669.5,444.7L670.8,444.9Z" fill="#fdd49e" stroke="#5a3a30" stroke-opacity="0.75" stroke-width="0.4"/>
<path d="M738.8,443.1L737.0,444.4L734.6,446.2L732.1,447.3L732.3,446.6L731.7,446.2L734.5,444.1L734.9,442.6L733.3,441.6L734.0,440.7L736.2,439.8L737.9,437.8L738.9,436.1L739.2,434.3L739.5,433.9L739.1,432.8L738.8,430.5L739.0,428.6L739.9,428.4L740.3,429.9L741.6,430.6L740.7,432.9L740.6,435.6L741.8,433.9L742.3,434.6L741.3,436.5L742.5,437.4L743.8,437.6L745.7,436.6L746.6,436.9L744.5,439.2L742.8,440.7L741.2,440.7L740.1,441.5L739.5,442.6L738.8,443.1ZM716.7,452.1L719.5,450.7L721.9,449.4L724.3,447.5L725.6,446.8L726.9,445.4L729.3,444.1L729.0,445.3L728.7,446.3L730.9,445.3L730.7,446.4L729.9,447.5L728.2,448.6L725.3,450.6L723.4,451.6L723.2,452.8L721.5,452.9L719.0,453.8L717.0,455.5L713.7,458.1L711.1,459.3L709.4,460.0L707.6,459.9L707.0,459.1L704.9,458.9L705.3,458.0L708.0,456.1L712.7,453.5L714.4,453.1L716.7,452.1ZM705.4,460.4L706.7,460.5L705.7,461.4L704.6,461.5L705.4,460.4Z" fill="#fdd49e" stroke="#5a3a30" stroke-opacity="0.75" stroke-width="0.4"/>
<path d="M688.0,345.3L692.0,347.1L696.1,348.6L697.6,349.9L698.8,351.2L699.1,352.8L702.8,354.4L703.3,355.8L701.1,356.0L701.5,357.8L703.4,359.5L704.6,362.3L706.0,362.2L705.8,363.3L707.5,363.8L706.7,364.3L709.1,365.4L708.7,366.1L707.2,366.3L706.7,365.6L704.7,365.3L702.5,364.9L700.9,363.3L699.7,361.8L698.7,359.6L695.8,358.4L693.8,359.2L692.3,360.0L692.4,361.9L690.6,362.9L689.3,362.4L686.9,362.3L687.6,353.8L688.0,345.3ZM715.7,350.2L715.0,351.0L714.6,349.4L714.2,348.4L713.2,347.5L711.9,346.4L710.3,345.7L710.9,345.0L712.2,345.8L712.9,346.3L713.9,347.0L714.7,348.1L715.6,348.9L715.7,350.2ZM713.9,349.8L713.8,351.2L712.9,352.8L711.7,353.0L711.3,353.7L710.0,354.4L708.7,355.0L707.5,355.0L705.7,354.2L704.4,353.5L704.7,352.7L706.7,353.1L708.0,352.9L708.4,351.6L708.7,351.6L708.9,352.9L710.2,352.8L710.9,351.8L712.3,350.9L712.1,349.4L713.5,349.3L713.9,349.8ZM721.6,356.3L720.9,356.6L720.0,355.6L719.1,353.9L718.8,351.9L719.1,351.7L719.3,352.4L720.0,353.0L721.0,354.7L722.0,355.6L721.6,356.3Z" fill="#b30000" stroke="#5a3a30" stroke-opacity="0.75" stroke-width="0.4"/>
<path d="M735.0,365.9L735.5,366.8L733.9,366.7L733.2,365.1L734.5,365.8L735.0,365.9ZM732.3,364.3L731.3,364.3L730.0,364.1L729.5,363.7L729.8,362.6L731.3,363.0L732.0,363.6L732.3,364.3ZM734.2,363.6L733.8,364.0L732.4,361.8L732.1,360.2L732.8,360.2L733.5,362.3L734.2,363.6ZM730.5,360.3L730.5,360.8L728.8,359.7L727.6,358.7L726.8,357.9L727.2,357.6L728.2,358.2L730.0,359.4L730.5,360.3ZM725.3,357.7L724.8,357.8L723.9,357.2L723.0,356.2L723.2,355.7L724.5,356.8L725.3,357.7Z" fill="#b30000" stroke="#5a3a30" stroke-opacity="0.75" stroke-width="0.4"/>
<path d="M745.4,381.5L744.6,381.8L744.0,380.7L744.3,380.0L745.4,381.5ZM744.5,377.5L744.5,379.6L743.9,379.3L743.4,379.4L743.3,378.7L743.6,376.7L744.5,377.5Z" fill="url(#hatch)" stroke="#c8c8c8" stroke-width="0.5"/>
<path d="M737.8,393.5L739.2,395.1L740.1,396.3L739.0,397.0L738.0,396.3L736.7,395.1L735.6,393.7L734.6,391.9L734.4,391.0L735.4,391.0L736.5,391.9L737.2,392.8L737.8,393.5Z" fill="url(#hatch)" stroke="#c8c8c8" stroke-width="0.5"/>
<path d="M768.8,383.8L769.4,384.5L768.7,385.9L767.2,386.2L766.0,385.9L766.1,384.8L767.2,383.9L768.2,384.2L768.8,383.8ZM771.4,382.4L769.9,382.9L769.8,381.9L771.1,381.4L771.8,381.3L773.3,380.5L773.0,381.7L771.4,382.4Z" fill="#ef6548" stroke="#5a3a30" stroke-opacity="0.75" stroke-width="0.4"/>
</g>
<rect x="98.5" y="537.5" width="48" height="10.8" fill="url(#hatch)" stroke="#bbb" stroke-width="0.6"/>
<line x1="122.5" y1="534.2" x2="122.5" y2="537.5" stroke="#888" stroke-width="0.5"/>
<rect x="166.1" y="537.5" width="58.5" height="10.8" fill="#fff7ec" stroke="#bbb" stroke-width="0.5"/>
<line x1="166.1" y1="534.2" x2="166.1" y2="548.3" stroke="#888" stroke-width="0.5"/>
<rect x="224.6" y="537.5" width="58.5" height="10.8" fill="#fee8c8" stroke="#bbb" stroke-width="0.5"/>
<line x1="224.6" y1="534.2" x2="224.6" y2="548.3" stroke="#888" stroke-width="0.5"/>
<rect x="283.1" y="537.5" width="58.5" height="10.8" fill="#fdd49e" stroke="#bbb" stroke-width="0.5"/>
<line x1="283.1" y1="534.2" x2="283.1" y2="548.3" stroke="#888" stroke-width="0.5"/>
<rect x="341.6" y="537.5" width="58.5" height="10.8" fill="#fdbb84" stroke="#bbb" stroke-width="0.5"/>
<line x1="341.6" y1="534.2" x2="341.6" y2="548.3" stroke="#888" stroke-width="0.5"/>
<rect x="400.1" y="537.5" width="58.5" height="10.8" fill="#fc8d59" stroke="#bbb" stroke-width="0.5"/>
<line x1="400.1" y1="534.2" x2="400.1" y2="548.3" stroke="#888" stroke-width="0.5"/>
<rect x="458.6" y="537.5" width="58.5" height="10.8" fill="#ef6548" stroke="#bbb" stroke-width="0.5"/>
<line x1="458.6" y1="534.2" x2="458.6" y2="548.3" stroke="#888" stroke-width="0.5"/>
<rect x="517.1" y="537.5" width="58.5" height="10.8" fill="#d7301f" stroke="#bbb" stroke-width="0.5"/>
<line x1="517.1" y1="534.2" x2="517.1" y2="548.3" stroke="#888" stroke-width="0.5"/>
<rect x="575.6" y="537.5" width="58.5" height="10.8" fill="#b30000" stroke="#bbb" stroke-width="0.5"/>
<line x1="575.6" y1="534.2" x2="575.6" y2="548.3" stroke="#888" stroke-width="0.5"/>
<rect x="634.1" y="537.5" width="58.5" height="10.8" fill="#990000" stroke="#bbb" stroke-width="0.5"/>
<line x1="634.1" y1="534.2" x2="634.1" y2="548.3" stroke="#888" stroke-width="0.5"/>
<path d="M692.6,537.5 L746.1,537.5 L751.1,542.9 L746.1,548.3 L692.6,548.3 Z" fill="#7f0000" stroke="#bbb" stroke-width="0.5"/>
<line x1="692.6" y1="534.2" x2="692.6" y2="548.3" stroke="#888" stroke-width="0.5"/>
</svg>
<div id="title"><span id="t1">Share of adults who smoke or use tobacco,</span><span id="t2">2022</span></div>
<div class="sub" id="s1" style="top:52.7px;left:15.5px">Estimated percentage of people aged 15 years and older who currently use tobacco. This includes all forms of</div>
<div class="sub" id="s2" style="top:70.5px">tobacco use, such as smoking, chewing or snuffing, but excludes products that do not contain tobacco, such as</div>
<div class="sub" id="s3" style="top:88.7px">e-cigarettes.</div>
<div id="logo"><div style="top:5.7px">Our World</div><div style="top:17.3px">in Data</div></div>
<div class="lg" id="nd" style="left:92.5px;width:60px">No data</div>
<div class="lg" style="left:146.1px">0%</div><div class="lg" style="left:204.6px">5%</div><div class="lg" style="left:263.1px">10%</div><div class="lg" style="left:321.6px">15%</div><div class="lg" style="left:380.1px">20%</div><div class="lg" style="left:438.6px">25%</div><div class="lg" style="left:497.1px">30%</div><div class="lg" style="left:555.6px">35%</div><div class="lg" style="left:614.1px">40%</div><div class="lg" style="left:672.6px">45%</div>
<div class="ft" id="f1" style="left:16.4px"><b style="letter-spacing:-0.57px">Data source:</b> World Health Organization - Global Health Observatory (2024)</div>
<div class="ft" id="f2" style="right:17.2px;transform-origin:100% 0">OurWorldinData.org/smoking | CC BY</div>
</body></html>
